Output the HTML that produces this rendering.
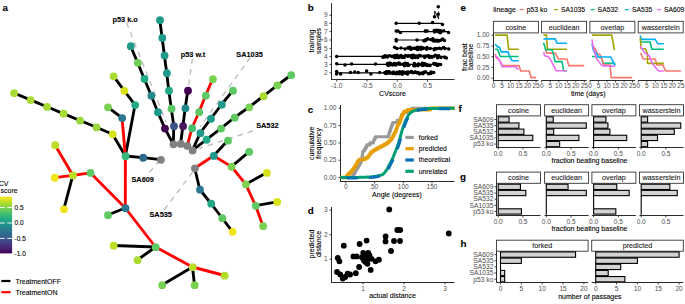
<!DOCTYPE html>
<html><head><meta charset="utf-8"><style>
html,body{margin:0;padding:0;background:#fff;width:685px;height:304px;overflow:hidden}
svg{display:block;font-family:"Liberation Sans", sans-serif}
text.s{stroke:currentColor;stroke-width:0.1px}
</style></head><body>
<svg width="685" height="304" viewBox="0 0 685 304">
<text class="s" x="2.60" y="11.20" font-size="9.8" text-anchor="start" font-weight="bold" fill="#000" color="#000" >a</text>
<text class="s" x="307.80" y="10.90" font-size="9.8" text-anchor="start" font-weight="bold" fill="#000" color="#000" >b</text>
<text class="s" x="307.80" y="112.60" font-size="9.8" text-anchor="start" font-weight="bold" fill="#000" color="#000" >c</text>
<text class="s" x="307.80" y="213.60" font-size="9.8" text-anchor="start" font-weight="bold" fill="#000" color="#000" >d</text>
<text class="s" x="460.60" y="11.20" font-size="9.8" text-anchor="start" font-weight="bold" fill="#000" color="#000" >e</text>
<text class="s" x="458.60" y="111.80" font-size="9.8" text-anchor="start" font-weight="bold" fill="#000" color="#000" >f</text>
<text class="s" x="460.00" y="180.40" font-size="9.8" text-anchor="start" font-weight="bold" fill="#000" color="#000" >g</text>
<text class="s" x="460.40" y="247.30" font-size="9.8" text-anchor="start" font-weight="bold" fill="#000" color="#000" >h</text>
<line x1="126.50" y1="22.50" x2="166.00" y2="122.00" stroke="#BDBDBD" stroke-width="1.35" stroke-dasharray="5.5 5"/>
<line x1="192.50" y1="58.70" x2="188.30" y2="87.00" stroke="#BDBDBD" stroke-width="1.35" stroke-dasharray="5.5 5"/>
<line x1="250.30" y1="57.30" x2="200.00" y2="127.00" stroke="#BDBDBD" stroke-width="1.35" stroke-dasharray="5.5 5"/>
<line x1="252.80" y1="131.00" x2="199.00" y2="148.50" stroke="#BDBDBD" stroke-width="1.35" stroke-dasharray="5.5 5"/>
<line x1="149.30" y1="172.40" x2="159.00" y2="161.50" stroke="#BDBDBD" stroke-width="1.35" stroke-dasharray="5.5 5"/>
<line x1="164.20" y1="209.90" x2="193.80" y2="170.50" stroke="#BDBDBD" stroke-width="1.35" stroke-dasharray="5.5 5"/>
<line x1="13.90" y1="93.00" x2="30.40" y2="99.90" stroke="#000" stroke-width="2.85" stroke-linecap="butt"/>
<line x1="30.40" y1="99.90" x2="46.90" y2="106.80" stroke="#000" stroke-width="2.85" stroke-linecap="butt"/>
<line x1="46.90" y1="106.80" x2="63.40" y2="113.60" stroke="#000" stroke-width="2.85" stroke-linecap="butt"/>
<line x1="63.40" y1="113.60" x2="79.90" y2="120.50" stroke="#000" stroke-width="2.85" stroke-linecap="butt"/>
<line x1="79.90" y1="120.50" x2="96.40" y2="127.30" stroke="#000" stroke-width="2.85" stroke-linecap="butt"/>
<line x1="96.40" y1="127.30" x2="112.50" y2="134.20" stroke="#000" stroke-width="2.85" stroke-linecap="butt"/>
<line x1="112.50" y1="134.20" x2="125.40" y2="156.00" stroke="#000" stroke-width="2.85" stroke-linecap="butt"/>
<line x1="113.40" y1="76.20" x2="124.20" y2="90.70" stroke="#000" stroke-width="2.85" stroke-linecap="butt"/>
<line x1="124.20" y1="90.70" x2="135.00" y2="104.90" stroke="#000" stroke-width="2.85" stroke-linecap="butt"/>
<line x1="135.00" y1="104.90" x2="125.40" y2="156.00" stroke="#000" stroke-width="2.85" stroke-linecap="butt"/>
<line x1="107.80" y1="107.20" x2="122.00" y2="117.90" stroke="#000" stroke-width="2.85" stroke-linecap="butt"/>
<line x1="122.00" y1="117.90" x2="125.40" y2="156.00" stroke="#FF0000" stroke-width="2.85" stroke-linecap="butt"/>
<line x1="125.40" y1="156.00" x2="143.00" y2="157.60" stroke="#000" stroke-width="2.85" stroke-linecap="butt"/>
<line x1="143.00" y1="157.60" x2="160.70" y2="159.70" stroke="#000" stroke-width="2.85" stroke-linecap="butt"/>
<line x1="125.40" y1="156.00" x2="125.30" y2="208.00" stroke="#FF0000" stroke-width="2.85" stroke-linecap="butt"/>
<line x1="125.30" y1="208.00" x2="107.80" y2="215.00" stroke="#000" stroke-width="2.85" stroke-linecap="butt"/>
<line x1="90.30" y1="172.80" x2="125.30" y2="208.00" stroke="#FF0000" stroke-width="2.85" stroke-linecap="butt"/>
<line x1="72.80" y1="175.30" x2="90.30" y2="172.80" stroke="#FF0000" stroke-width="2.85" stroke-linecap="butt"/>
<line x1="55.00" y1="145.00" x2="72.80" y2="175.30" stroke="#FF0000" stroke-width="2.85" stroke-linecap="butt"/>
<line x1="54.60" y1="177.60" x2="72.80" y2="175.30" stroke="#FF0000" stroke-width="2.85" stroke-linecap="butt"/>
<line x1="72.80" y1="175.30" x2="63.80" y2="209.20" stroke="#000" stroke-width="2.85" stroke-linecap="butt"/>
<line x1="125.30" y1="208.00" x2="155.50" y2="247.00" stroke="#FF0000" stroke-width="2.85" stroke-linecap="butt"/>
<line x1="113.50" y1="245.50" x2="155.50" y2="247.00" stroke="#000" stroke-width="2.85" stroke-linecap="butt"/>
<line x1="137.40" y1="260.00" x2="155.50" y2="247.00" stroke="#000" stroke-width="2.85" stroke-linecap="butt"/>
<line x1="155.50" y1="247.00" x2="192.50" y2="267.00" stroke="#FF0000" stroke-width="2.85" stroke-linecap="butt"/>
<line x1="192.50" y1="267.00" x2="224.50" y2="275.50" stroke="#FF0000" stroke-width="2.85" stroke-linecap="butt"/>
<line x1="192.50" y1="267.00" x2="162.00" y2="285.00" stroke="#000" stroke-width="2.85" stroke-linecap="butt"/>
<line x1="192.50" y1="267.00" x2="194.50" y2="285.00" stroke="#000" stroke-width="2.85" stroke-linecap="butt"/>
<line x1="130.60" y1="46.00" x2="137.60" y2="62.70" stroke="#000" stroke-width="2.85" stroke-linecap="butt"/>
<line x1="137.60" y1="62.70" x2="144.30" y2="78.80" stroke="#000" stroke-width="2.85" stroke-linecap="butt"/>
<line x1="144.30" y1="78.80" x2="151.20" y2="95.50" stroke="#000" stroke-width="2.85" stroke-linecap="butt"/>
<line x1="151.20" y1="95.50" x2="157.80" y2="112.00" stroke="#000" stroke-width="2.85" stroke-linecap="butt"/>
<line x1="157.80" y1="112.00" x2="164.80" y2="128.40" stroke="#000" stroke-width="2.85" stroke-linecap="butt"/>
<line x1="164.80" y1="128.40" x2="173.30" y2="144.20" stroke="#000" stroke-width="2.85" stroke-linecap="butt"/>
<line x1="159.80" y1="20.00" x2="162.10" y2="37.80" stroke="#000" stroke-width="2.85" stroke-linecap="butt"/>
<line x1="162.10" y1="37.80" x2="164.40" y2="55.40" stroke="#000" stroke-width="2.85" stroke-linecap="butt"/>
<line x1="164.40" y1="55.40" x2="166.70" y2="73.00" stroke="#000" stroke-width="2.85" stroke-linecap="butt"/>
<line x1="166.70" y1="73.00" x2="168.80" y2="90.60" stroke="#000" stroke-width="2.85" stroke-linecap="butt"/>
<line x1="168.80" y1="90.60" x2="171.30" y2="108.60" stroke="#000" stroke-width="2.85" stroke-linecap="butt"/>
<line x1="171.30" y1="108.60" x2="173.80" y2="126.00" stroke="#000" stroke-width="2.85" stroke-linecap="butt"/>
<line x1="173.80" y1="126.00" x2="173.30" y2="144.20" stroke="#000" stroke-width="2.85" stroke-linecap="butt"/>
<line x1="187.80" y1="90.50" x2="185.20" y2="108.20" stroke="#000" stroke-width="2.85" stroke-linecap="butt"/>
<line x1="185.20" y1="108.20" x2="182.90" y2="126.00" stroke="#000" stroke-width="2.85" stroke-linecap="butt"/>
<line x1="182.90" y1="126.00" x2="180.60" y2="143.80" stroke="#000" stroke-width="2.85" stroke-linecap="butt"/>
<line x1="212.70" y1="79.00" x2="205.60" y2="95.50" stroke="#FF0000" stroke-width="2.85" stroke-linecap="butt"/>
<line x1="205.60" y1="95.50" x2="199.00" y2="112.00" stroke="#FF0000" stroke-width="2.85" stroke-linecap="butt"/>
<line x1="199.00" y1="112.00" x2="192.00" y2="128.00" stroke="#FF0000" stroke-width="2.85" stroke-linecap="butt"/>
<line x1="192.00" y1="128.00" x2="187.20" y2="145.80" stroke="#FF0000" stroke-width="2.85" stroke-linecap="butt"/>
<line x1="232.80" y1="90.60" x2="221.60" y2="104.50" stroke="#000" stroke-width="2.85" stroke-linecap="butt"/>
<line x1="221.60" y1="104.50" x2="210.80" y2="118.60" stroke="#000" stroke-width="2.85" stroke-linecap="butt"/>
<line x1="210.80" y1="118.60" x2="200.20" y2="133.00" stroke="#000" stroke-width="2.85" stroke-linecap="butt"/>
<line x1="200.20" y1="133.00" x2="192.40" y2="150.30" stroke="#000" stroke-width="2.85" stroke-linecap="butt"/>
<line x1="291.00" y1="75.00" x2="277.20" y2="85.30" stroke="#000" stroke-width="2.85" stroke-linecap="butt"/>
<line x1="277.20" y1="85.30" x2="263.40" y2="96.10" stroke="#000" stroke-width="2.85" stroke-linecap="butt"/>
<line x1="263.40" y1="96.10" x2="249.10" y2="107.20" stroke="#000" stroke-width="2.85" stroke-linecap="butt"/>
<line x1="249.10" y1="107.20" x2="234.50" y2="117.50" stroke="#000" stroke-width="2.85" stroke-linecap="butt"/>
<line x1="234.50" y1="117.50" x2="220.90" y2="128.40" stroke="#000" stroke-width="2.85" stroke-linecap="butt"/>
<line x1="220.90" y1="128.40" x2="206.40" y2="139.60" stroke="#000" stroke-width="2.85" stroke-linecap="butt"/>
<line x1="206.40" y1="139.60" x2="192.40" y2="150.30" stroke="#000" stroke-width="2.85" stroke-linecap="butt"/>
<line x1="194.70" y1="168.20" x2="213.60" y2="155.80" stroke="#FF0000" stroke-width="2.85" stroke-linecap="butt"/>
<line x1="213.60" y1="155.80" x2="227.80" y2="140.50" stroke="#000" stroke-width="2.85" stroke-linecap="butt"/>
<line x1="213.60" y1="155.80" x2="231.40" y2="166.60" stroke="#FF0000" stroke-width="2.85" stroke-linecap="butt"/>
<line x1="231.40" y1="166.60" x2="249.00" y2="151.80" stroke="#000" stroke-width="2.85" stroke-linecap="butt"/>
<line x1="231.40" y1="166.60" x2="245.70" y2="184.20" stroke="#FF0000" stroke-width="2.85" stroke-linecap="butt"/>
<line x1="245.70" y1="184.20" x2="266.70" y2="172.80" stroke="#000" stroke-width="2.85" stroke-linecap="butt"/>
<line x1="245.70" y1="184.20" x2="255.60" y2="205.70" stroke="#FF0000" stroke-width="2.85" stroke-linecap="butt"/>
<line x1="255.60" y1="205.70" x2="277.00" y2="201.80" stroke="#000" stroke-width="2.85" stroke-linecap="butt"/>
<line x1="255.60" y1="205.70" x2="263.00" y2="226.00" stroke="#FF0000" stroke-width="2.85" stroke-linecap="butt"/>
<line x1="194.70" y1="168.20" x2="199.80" y2="189.50" stroke="#000" stroke-width="2.85" stroke-linecap="butt"/>
<line x1="199.80" y1="189.50" x2="211.00" y2="203.50" stroke="#000" stroke-width="2.85" stroke-linecap="butt"/>
<line x1="211.00" y1="203.50" x2="222.10" y2="218.00" stroke="#000" stroke-width="2.85" stroke-linecap="butt"/>
<line x1="222.10" y1="218.00" x2="232.40" y2="231.70" stroke="#000" stroke-width="2.85" stroke-linecap="butt"/>
<circle cx="14.10" cy="93.15" r="3.9" fill="#A8DB34"/>
<circle cx="30.60" cy="100.05" r="3.9" fill="#A8DB34"/>
<circle cx="47.10" cy="106.95" r="3.9" fill="#A8DB34"/>
<circle cx="63.60" cy="113.75" r="3.9" fill="#A8DB34"/>
<circle cx="80.10" cy="120.65" r="3.9" fill="#98D83E"/>
<circle cx="96.60" cy="127.45" r="3.9" fill="#98D83E"/>
<circle cx="112.70" cy="134.35" r="3.9" fill="#D8E219"/>
<circle cx="125.60" cy="156.15" r="3.9" fill="#35B779"/>
<circle cx="113.60" cy="76.35" r="3.9" fill="#A8DB34"/>
<circle cx="124.40" cy="90.85" r="3.9" fill="#D8E219"/>
<circle cx="135.20" cy="105.05" r="3.9" fill="#22A884"/>
<circle cx="108.00" cy="107.35" r="3.9" fill="#7AD151"/>
<circle cx="122.20" cy="118.05" r="3.9" fill="#2A788E"/>
<circle cx="143.20" cy="157.75" r="3.9" fill="#31688E"/>
<circle cx="160.90" cy="159.85" r="3.9" fill="#808080"/>
<circle cx="125.50" cy="208.15" r="3.9" fill="#2A788E"/>
<circle cx="108.00" cy="215.15" r="3.9" fill="#5EC962"/>
<circle cx="90.50" cy="172.95" r="3.9" fill="#5EC962"/>
<circle cx="73.00" cy="175.45" r="3.9" fill="#BBDF27"/>
<circle cx="55.20" cy="145.15" r="3.9" fill="#BBDF27"/>
<circle cx="54.80" cy="177.75" r="3.9" fill="#F0E51C"/>
<circle cx="64.00" cy="209.35" r="3.9" fill="#F0E51C"/>
<circle cx="155.70" cy="247.15" r="3.9" fill="#5EC962"/>
<circle cx="113.70" cy="245.65" r="3.9" fill="#BBDF27"/>
<circle cx="137.60" cy="260.15" r="3.9" fill="#A8DB34"/>
<circle cx="192.70" cy="267.15" r="3.9" fill="#BBDF27"/>
<circle cx="224.70" cy="275.65" r="3.9" fill="#B2DD2D"/>
<circle cx="162.20" cy="285.15" r="3.9" fill="#7AD151"/>
<circle cx="194.70" cy="285.15" r="3.9" fill="#7AD151"/>
<circle cx="173.50" cy="144.35" r="3.9" fill="#808080"/>
<circle cx="180.80" cy="143.95" r="3.9" fill="#808080"/>
<circle cx="187.40" cy="145.95" r="3.9" fill="#808080"/>
<circle cx="192.60" cy="150.45" r="3.9" fill="#808080"/>
<circle cx="130.80" cy="46.15" r="3.9" fill="#1F9A8A"/>
<circle cx="137.80" cy="62.85" r="3.9" fill="#6ECE58"/>
<circle cx="144.50" cy="78.95" r="3.9" fill="#22A884"/>
<circle cx="151.40" cy="95.65" r="3.9" fill="#25898D"/>
<circle cx="158.00" cy="112.15" r="3.9" fill="#1F9A8A"/>
<circle cx="165.00" cy="128.55" r="3.9" fill="#440154"/>
<circle cx="160.00" cy="20.15" r="3.9" fill="#1F9A8A"/>
<circle cx="162.30" cy="37.95" r="3.9" fill="#1F9A8A"/>
<circle cx="164.60" cy="55.55" r="3.9" fill="#1F9A8A"/>
<circle cx="166.90" cy="73.15" r="3.9" fill="#1F9A8A"/>
<circle cx="169.00" cy="90.75" r="3.9" fill="#22A884"/>
<circle cx="171.50" cy="108.75" r="3.9" fill="#5EC962"/>
<circle cx="174.00" cy="126.15" r="3.9" fill="#3B528B"/>
<circle cx="188.00" cy="90.65" r="3.9" fill="#440154"/>
<circle cx="185.40" cy="108.35" r="3.9" fill="#23868D"/>
<circle cx="183.10" cy="126.15" r="3.9" fill="#46185F"/>
<circle cx="212.90" cy="79.15" r="3.9" fill="#7AD151"/>
<circle cx="205.80" cy="95.65" r="3.9" fill="#5EC962"/>
<circle cx="199.20" cy="112.15" r="3.9" fill="#5EC962"/>
<circle cx="192.20" cy="128.15" r="3.9" fill="#43BF71"/>
<circle cx="233.00" cy="90.75" r="3.9" fill="#5EC962"/>
<circle cx="221.80" cy="104.65" r="3.9" fill="#1F9A8A"/>
<circle cx="211.00" cy="118.75" r="3.9" fill="#1F9A8A"/>
<circle cx="200.40" cy="133.15" r="3.9" fill="#1F9A8A"/>
<circle cx="291.20" cy="75.15" r="3.9" fill="#5EC962"/>
<circle cx="277.40" cy="85.45" r="3.9" fill="#7AD151"/>
<circle cx="263.60" cy="96.25" r="3.9" fill="#A8DB34"/>
<circle cx="249.30" cy="107.35" r="3.9" fill="#7AD151"/>
<circle cx="234.70" cy="117.65" r="3.9" fill="#5EC962"/>
<circle cx="221.10" cy="128.55" r="3.9" fill="#5EC962"/>
<circle cx="206.60" cy="139.75" r="3.9" fill="#22A884"/>
<circle cx="194.90" cy="168.35" r="3.9" fill="#808080"/>
<circle cx="213.80" cy="155.95" r="3.9" fill="#1F9A8A"/>
<circle cx="228.00" cy="140.65" r="3.9" fill="#5EC962"/>
<circle cx="231.60" cy="166.75" r="3.9" fill="#7AD151"/>
<circle cx="249.20" cy="151.95" r="3.9" fill="#5EC962"/>
<circle cx="245.90" cy="184.35" r="3.9" fill="#7AD151"/>
<circle cx="266.90" cy="172.95" r="3.9" fill="#D8E219"/>
<circle cx="255.80" cy="205.85" r="3.9" fill="#5EC962"/>
<circle cx="277.20" cy="201.95" r="3.9" fill="#D8E219"/>
<circle cx="263.20" cy="226.15" r="3.9" fill="#7AD151"/>
<circle cx="200.00" cy="189.65" r="3.9" fill="#2A788E"/>
<circle cx="211.20" cy="203.65" r="3.9" fill="#22A884"/>
<circle cx="222.30" cy="218.15" r="3.9" fill="#5EC962"/>
<circle cx="232.60" cy="231.85" r="3.9" fill="#F0E51C"/>
<text class="s" x="125.20" y="21.70" font-size="7.35" text-anchor="middle" font-weight="bold" fill="#000" color="#000" >p53 k.o</text>
<text class="s" x="193.00" y="57.00" font-size="7.35" text-anchor="middle" font-weight="bold" fill="#000" color="#000" >p53 w.t</text>
<text class="s" x="249.55" y="57.00" font-size="7.35" text-anchor="middle" font-weight="bold" fill="#000" color="#000" >SA1035</text>
<text class="s" x="267.40" y="128.00" font-size="7.35" text-anchor="middle" font-weight="bold" fill="#000" color="#000" >SA532</text>
<text class="s" x="142.70" y="181.70" font-size="7.35" text-anchor="middle" font-weight="bold" fill="#000" color="#000" >SA609</text>
<text class="s" x="160.70" y="217.20" font-size="7.35" text-anchor="middle" font-weight="bold" fill="#000" color="#000" >SA535</text>
<defs><linearGradient id="vir" x1="0" y1="1" x2="0" y2="0"><stop offset="0" stop-color="#440154"/><stop offset="0.1" stop-color="#482576"/><stop offset="0.2" stop-color="#414487"/><stop offset="0.3" stop-color="#35608D"/><stop offset="0.4" stop-color="#2A788E"/><stop offset="0.5" stop-color="#21908C"/><stop offset="0.6" stop-color="#22A884"/><stop offset="0.7" stop-color="#43BF71"/><stop offset="0.8" stop-color="#7AD151"/><stop offset="0.9" stop-color="#BBDF27"/><stop offset="1" stop-color="#FDE725"/></linearGradient></defs>
<rect x="0" y="196.6" width="12.1" height="56.8" fill="url(#vir)"/>
<line x1="0.00" y1="207.50" x2="4.80" y2="207.50" stroke="#FFFFFF" stroke-width="0.9" />
<line x1="7.30" y1="207.50" x2="12.10" y2="207.50" stroke="#FFFFFF" stroke-width="0.9" />
<text class="s" x="14.60" y="209.80" font-size="6.5" text-anchor="start" font-weight="normal" fill="#000" color="#000" >0.5</text>
<line x1="0.00" y1="223.00" x2="4.80" y2="223.00" stroke="#FFFFFF" stroke-width="0.9" />
<line x1="7.30" y1="223.00" x2="12.10" y2="223.00" stroke="#FFFFFF" stroke-width="0.9" />
<text class="s" x="14.60" y="225.30" font-size="6.5" text-anchor="start" font-weight="normal" fill="#000" color="#000" >0.0</text>
<line x1="0.00" y1="238.40" x2="4.80" y2="238.40" stroke="#FFFFFF" stroke-width="0.9" />
<line x1="7.30" y1="238.40" x2="12.10" y2="238.40" stroke="#FFFFFF" stroke-width="0.9" />
<text class="s" x="14.60" y="240.70" font-size="6.5" text-anchor="start" font-weight="normal" fill="#000" color="#000" >-0.5</text>
<text class="s" x="14.60" y="255.90" font-size="6.5" text-anchor="start" font-weight="normal" fill="#000" color="#000" >-1.0</text>
<text class="s" x="-1.20" y="185.60" font-size="7.0" text-anchor="start" font-weight="normal" fill="#000" color="#000" >CV</text>
<text class="s" x="0.60" y="193.00" font-size="7.0" text-anchor="start" font-weight="normal" fill="#000" color="#000" >score</text>
<line x1="1.30" y1="281.00" x2="10.50" y2="281.00" stroke="#000" stroke-width="2.2" />
<line x1="1.30" y1="292.20" x2="10.50" y2="292.20" stroke="#FF0000" stroke-width="2.2" />
<text class="s" x="15.40" y="283.50" font-size="7.0" text-anchor="start" font-weight="normal" fill="#000" color="#000" >TreatmentOFF</text>
<text class="s" x="15.40" y="294.70" font-size="7.0" text-anchor="start" font-weight="normal" fill="#000" color="#000" >TreatmentON</text>
<line x1="331.50" y1="3.20" x2="331.50" y2="80.00" stroke="#2B2B2B" stroke-width="1.0" />
<line x1="331.00" y1="79.50" x2="454.50" y2="79.50" stroke="#2B2B2B" stroke-width="1.0" />
<line x1="329.50" y1="72.80" x2="331.50" y2="72.80" stroke="#2B2B2B" stroke-width="0.9" />
<text x="327.60" y="75.00" font-size="6.5" text-anchor="end" font-weight="normal" fill="#4D4D4D" color="#4D4D4D" >2</text>
<line x1="329.50" y1="64.40" x2="331.50" y2="64.40" stroke="#2B2B2B" stroke-width="0.9" />
<text x="327.60" y="66.60" font-size="6.5" text-anchor="end" font-weight="normal" fill="#4D4D4D" color="#4D4D4D" >3</text>
<line x1="329.50" y1="56.40" x2="331.50" y2="56.40" stroke="#2B2B2B" stroke-width="0.9" />
<text x="327.60" y="58.60" font-size="6.5" text-anchor="end" font-weight="normal" fill="#4D4D4D" color="#4D4D4D" >4</text>
<line x1="329.50" y1="48.40" x2="331.50" y2="48.40" stroke="#2B2B2B" stroke-width="0.9" />
<text x="327.60" y="50.60" font-size="6.5" text-anchor="end" font-weight="normal" fill="#4D4D4D" color="#4D4D4D" >5</text>
<line x1="329.50" y1="40.00" x2="331.50" y2="40.00" stroke="#2B2B2B" stroke-width="0.9" />
<text x="327.60" y="42.20" font-size="6.5" text-anchor="end" font-weight="normal" fill="#4D4D4D" color="#4D4D4D" >6</text>
<line x1="329.50" y1="31.60" x2="331.50" y2="31.60" stroke="#2B2B2B" stroke-width="0.9" />
<text x="327.60" y="33.80" font-size="6.5" text-anchor="end" font-weight="normal" fill="#4D4D4D" color="#4D4D4D" >7</text>
<line x1="329.50" y1="23.30" x2="331.50" y2="23.30" stroke="#2B2B2B" stroke-width="0.9" />
<text x="327.60" y="25.50" font-size="6.5" text-anchor="end" font-weight="normal" fill="#4D4D4D" color="#4D4D4D" >8</text>
<line x1="329.50" y1="15.20" x2="331.50" y2="15.20" stroke="#2B2B2B" stroke-width="0.9" />
<text x="327.60" y="17.40" font-size="6.5" text-anchor="end" font-weight="normal" fill="#4D4D4D" color="#4D4D4D" >9</text>
<line x1="336.75" y1="79.50" x2="336.75" y2="81.60" stroke="#2B2B2B" stroke-width="0.9" />
<text x="336.75" y="88.00" font-size="6.5" text-anchor="middle" font-weight="normal" fill="#4D4D4D" color="#4D4D4D" >-1.0</text>
<line x1="367.00" y1="79.50" x2="367.00" y2="81.60" stroke="#2B2B2B" stroke-width="0.9" />
<text x="367.00" y="88.00" font-size="6.5" text-anchor="middle" font-weight="normal" fill="#4D4D4D" color="#4D4D4D" >-0.5</text>
<line x1="397.25" y1="79.50" x2="397.25" y2="81.60" stroke="#2B2B2B" stroke-width="0.9" />
<text x="397.25" y="88.00" font-size="6.5" text-anchor="middle" font-weight="normal" fill="#4D4D4D" color="#4D4D4D" >0.0</text>
<line x1="427.50" y1="79.50" x2="427.50" y2="81.60" stroke="#2B2B2B" stroke-width="0.9" />
<text x="427.50" y="88.00" font-size="6.5" text-anchor="middle" font-weight="normal" fill="#4D4D4D" color="#4D4D4D" >0.5</text>
<text class="s" x="392.50" y="95.60" font-size="7.0" text-anchor="middle" font-weight="normal" fill="#000" color="#000" >CVscore</text>
<text class="s" x="314.00" y="41.00" font-size="7.0" text-anchor="middle" font-weight="normal" fill="#000" color="#000" transform="rotate(-90 314.00 41.00)" >training</text>
<text class="s" x="320.90" y="41.00" font-size="7.0" text-anchor="middle" font-weight="normal" fill="#000" color="#000" transform="rotate(-90 320.90 41.00)" >samples</text>
<line x1="336.60" y1="72.80" x2="433.70" y2="72.80" stroke="#000" stroke-width="1.2" />
<circle cx="336.60" cy="71.60" r="1.75" fill="#000"/>
<circle cx="336.60" cy="73.90" r="1.75" fill="#000"/>
<circle cx="340.60" cy="74.00" r="1.75" fill="#000"/>
<circle cx="350.50" cy="72.60" r="1.75" fill="#000"/>
<circle cx="354.70" cy="72.00" r="1.75" fill="#000"/>
<circle cx="358.20" cy="72.60" r="1.75" fill="#000"/>
<circle cx="366.60" cy="71.00" r="1.75" fill="#000"/>
<circle cx="370.90" cy="74.00" r="1.75" fill="#000"/>
<circle cx="379.70" cy="72.40" r="1.75" fill="#000"/>
<circle cx="384.70" cy="72.80" r="1.75" fill="#000"/>
<circle cx="433.70" cy="72.60" r="1.75" fill="#000"/>
<circle cx="393.54" cy="71.89" r="1.75" fill="#000"/>
<circle cx="402.47" cy="71.69" r="1.75" fill="#000"/>
<circle cx="399.33" cy="72.45" r="1.75" fill="#000"/>
<circle cx="386.28" cy="72.82" r="1.75" fill="#000"/>
<circle cx="385.72" cy="72.63" r="1.75" fill="#000"/>
<circle cx="386.61" cy="71.74" r="1.75" fill="#000"/>
<circle cx="396.29" cy="73.65" r="1.75" fill="#000"/>
<circle cx="388.08" cy="72.08" r="1.75" fill="#000"/>
<circle cx="401.83" cy="73.96" r="1.75" fill="#000"/>
<circle cx="400.45" cy="72.53" r="1.75" fill="#000"/>
<circle cx="411.35" cy="71.62" r="1.75" fill="#000"/>
<circle cx="408.14" cy="72.25" r="1.75" fill="#000"/>
<circle cx="388.64" cy="71.81" r="1.75" fill="#000"/>
<circle cx="393.12" cy="73.62" r="1.75" fill="#000"/>
<circle cx="389.63" cy="73.01" r="1.75" fill="#000"/>
<circle cx="402.14" cy="72.47" r="1.75" fill="#000"/>
<circle cx="399.65" cy="71.66" r="1.75" fill="#000"/>
<circle cx="386.33" cy="72.04" r="1.75" fill="#000"/>
<circle cx="403.27" cy="72.61" r="1.75" fill="#000"/>
<circle cx="393.28" cy="73.02" r="1.75" fill="#000"/>
<circle cx="397.07" cy="72.28" r="1.75" fill="#000"/>
<circle cx="406.39" cy="73.32" r="1.75" fill="#000"/>
<circle cx="391.36" cy="72.99" r="1.75" fill="#000"/>
<circle cx="399.04" cy="73.78" r="1.75" fill="#000"/>
<circle cx="404.61" cy="72.25" r="1.75" fill="#000"/>
<circle cx="411.46" cy="71.81" r="1.75" fill="#000"/>
<circle cx="396.11" cy="73.47" r="1.75" fill="#000"/>
<circle cx="388.85" cy="72.77" r="1.75" fill="#000"/>
<circle cx="385.77" cy="73.24" r="1.75" fill="#000"/>
<circle cx="405.57" cy="72.99" r="1.75" fill="#000"/>
<circle cx="408.60" cy="72.32" r="1.75" fill="#000"/>
<circle cx="403.68" cy="73.05" r="1.75" fill="#000"/>
<circle cx="400.53" cy="72.69" r="1.75" fill="#000"/>
<circle cx="407.63" cy="73.96" r="1.75" fill="#000"/>
<circle cx="397.64" cy="73.23" r="1.75" fill="#000"/>
<circle cx="386.36" cy="73.32" r="1.75" fill="#000"/>
<circle cx="402.37" cy="74.08" r="1.75" fill="#000"/>
<circle cx="407.14" cy="72.24" r="1.75" fill="#000"/>
<circle cx="395.23" cy="73.24" r="1.75" fill="#000"/>
<circle cx="385.32" cy="72.70" r="1.75" fill="#000"/>
<circle cx="389.29" cy="71.80" r="1.75" fill="#000"/>
<circle cx="386.31" cy="73.50" r="1.75" fill="#000"/>
<circle cx="414.59" cy="72.14" r="1.75" fill="#000"/>
<circle cx="419.82" cy="73.77" r="1.75" fill="#000"/>
<circle cx="413.61" cy="72.67" r="1.75" fill="#000"/>
<circle cx="422.99" cy="73.80" r="1.75" fill="#000"/>
<circle cx="428.39" cy="73.75" r="1.75" fill="#000"/>
<circle cx="417.57" cy="72.58" r="1.75" fill="#000"/>
<circle cx="419.18" cy="73.80" r="1.75" fill="#000"/>
<circle cx="431.15" cy="71.89" r="1.75" fill="#000"/>
<circle cx="415.52" cy="72.10" r="1.75" fill="#000"/>
<circle cx="416.67" cy="72.76" r="1.75" fill="#000"/>
<circle cx="423.78" cy="72.18" r="1.75" fill="#000"/>
<circle cx="412.08" cy="72.59" r="1.75" fill="#000"/>
<circle cx="419.39" cy="72.97" r="1.75" fill="#000"/>
<circle cx="431.06" cy="73.30" r="1.75" fill="#000"/>
<circle cx="422.31" cy="73.11" r="1.75" fill="#000"/>
<circle cx="425.52" cy="71.64" r="1.75" fill="#000"/>
<circle cx="429.99" cy="73.53" r="1.75" fill="#000"/>
<circle cx="429.49" cy="73.57" r="1.75" fill="#000"/>
<line x1="336.70" y1="64.40" x2="440.60" y2="64.40" stroke="#000" stroke-width="1.2" />
<circle cx="336.70" cy="63.80" r="1.75" fill="#000"/>
<circle cx="345.00" cy="64.90" r="1.75" fill="#000"/>
<circle cx="351.60" cy="64.00" r="1.75" fill="#000"/>
<circle cx="375.50" cy="63.90" r="1.75" fill="#000"/>
<circle cx="387.50" cy="64.50" r="1.75" fill="#000"/>
<circle cx="440.60" cy="64.60" r="1.75" fill="#000"/>
<circle cx="400.25" cy="64.14" r="1.75" fill="#000"/>
<circle cx="390.86" cy="64.75" r="1.75" fill="#000"/>
<circle cx="389.52" cy="63.28" r="1.75" fill="#000"/>
<circle cx="394.28" cy="63.52" r="1.75" fill="#000"/>
<circle cx="398.55" cy="63.24" r="1.75" fill="#000"/>
<circle cx="387.51" cy="63.49" r="1.75" fill="#000"/>
<circle cx="390.80" cy="64.05" r="1.75" fill="#000"/>
<circle cx="388.33" cy="65.37" r="1.75" fill="#000"/>
<circle cx="407.46" cy="63.49" r="1.75" fill="#000"/>
<circle cx="395.70" cy="64.00" r="1.75" fill="#000"/>
<circle cx="399.34" cy="63.42" r="1.75" fill="#000"/>
<circle cx="415.09" cy="65.68" r="1.75" fill="#000"/>
<circle cx="402.64" cy="64.36" r="1.75" fill="#000"/>
<circle cx="390.29" cy="63.37" r="1.75" fill="#000"/>
<circle cx="398.64" cy="63.79" r="1.75" fill="#000"/>
<circle cx="414.44" cy="63.52" r="1.75" fill="#000"/>
<circle cx="388.25" cy="65.57" r="1.75" fill="#000"/>
<circle cx="404.67" cy="63.48" r="1.75" fill="#000"/>
<circle cx="405.15" cy="63.17" r="1.75" fill="#000"/>
<circle cx="404.66" cy="65.64" r="1.75" fill="#000"/>
<circle cx="415.56" cy="64.91" r="1.75" fill="#000"/>
<circle cx="395.99" cy="64.05" r="1.75" fill="#000"/>
<circle cx="392.93" cy="65.11" r="1.75" fill="#000"/>
<circle cx="404.81" cy="65.13" r="1.75" fill="#000"/>
<circle cx="398.21" cy="63.68" r="1.75" fill="#000"/>
<circle cx="413.87" cy="65.66" r="1.75" fill="#000"/>
<circle cx="415.21" cy="65.20" r="1.75" fill="#000"/>
<circle cx="414.10" cy="65.02" r="1.75" fill="#000"/>
<circle cx="394.87" cy="64.45" r="1.75" fill="#000"/>
<circle cx="399.06" cy="63.18" r="1.75" fill="#000"/>
<circle cx="388.41" cy="63.83" r="1.75" fill="#000"/>
<circle cx="395.92" cy="64.90" r="1.75" fill="#000"/>
<circle cx="418.59" cy="64.26" r="1.75" fill="#000"/>
<circle cx="417.95" cy="65.67" r="1.75" fill="#000"/>
<circle cx="418.54" cy="64.05" r="1.75" fill="#000"/>
<circle cx="394.67" cy="63.69" r="1.75" fill="#000"/>
<circle cx="393.89" cy="63.63" r="1.75" fill="#000"/>
<circle cx="407.78" cy="65.44" r="1.75" fill="#000"/>
<circle cx="414.81" cy="64.35" r="1.75" fill="#000"/>
<circle cx="408.72" cy="65.18" r="1.75" fill="#000"/>
<circle cx="421.61" cy="64.82" r="1.75" fill="#000"/>
<circle cx="437.29" cy="65.13" r="1.75" fill="#000"/>
<circle cx="434.25" cy="64.34" r="1.75" fill="#000"/>
<circle cx="423.39" cy="65.15" r="1.75" fill="#000"/>
<circle cx="426.32" cy="65.18" r="1.75" fill="#000"/>
<circle cx="438.46" cy="64.13" r="1.75" fill="#000"/>
<circle cx="427.63" cy="65.56" r="1.75" fill="#000"/>
<circle cx="433.77" cy="63.54" r="1.75" fill="#000"/>
<circle cx="422.41" cy="63.49" r="1.75" fill="#000"/>
<circle cx="437.19" cy="65.20" r="1.75" fill="#000"/>
<circle cx="422.78" cy="65.25" r="1.75" fill="#000"/>
<circle cx="438.63" cy="64.81" r="1.75" fill="#000"/>
<circle cx="426.66" cy="64.53" r="1.75" fill="#000"/>
<circle cx="422.49" cy="63.14" r="1.75" fill="#000"/>
<circle cx="438.45" cy="64.79" r="1.75" fill="#000"/>
<circle cx="430.01" cy="65.53" r="1.75" fill="#000"/>
<circle cx="428.24" cy="65.37" r="1.75" fill="#000"/>
<circle cx="435.70" cy="63.65" r="1.75" fill="#000"/>
<circle cx="424.78" cy="63.86" r="1.75" fill="#000"/>
<circle cx="424.57" cy="64.62" r="1.75" fill="#000"/>
<circle cx="424.93" cy="64.19" r="1.75" fill="#000"/>
<circle cx="422.49" cy="65.47" r="1.75" fill="#000"/>
<line x1="336.70" y1="56.40" x2="446.40" y2="56.40" stroke="#000" stroke-width="1.2" />
<circle cx="336.70" cy="56.40" r="1.75" fill="#000"/>
<circle cx="383.00" cy="57.00" r="1.75" fill="#000"/>
<circle cx="446.40" cy="57.90" r="1.75" fill="#000"/>
<circle cx="392.55" cy="56.29" r="1.75" fill="#000"/>
<circle cx="398.75" cy="57.45" r="1.75" fill="#000"/>
<circle cx="394.36" cy="57.49" r="1.75" fill="#000"/>
<circle cx="396.54" cy="56.48" r="1.75" fill="#000"/>
<circle cx="397.13" cy="55.15" r="1.75" fill="#000"/>
<circle cx="394.88" cy="55.58" r="1.75" fill="#000"/>
<circle cx="383.11" cy="57.18" r="1.75" fill="#000"/>
<circle cx="387.65" cy="56.33" r="1.75" fill="#000"/>
<circle cx="402.58" cy="56.55" r="1.75" fill="#000"/>
<circle cx="391.80" cy="56.45" r="1.75" fill="#000"/>
<circle cx="398.00" cy="57.14" r="1.75" fill="#000"/>
<circle cx="385.86" cy="56.56" r="1.75" fill="#000"/>
<circle cx="389.71" cy="55.82" r="1.75" fill="#000"/>
<circle cx="403.85" cy="56.42" r="1.75" fill="#000"/>
<circle cx="398.17" cy="57.08" r="1.75" fill="#000"/>
<circle cx="407.64" cy="56.25" r="1.75" fill="#000"/>
<circle cx="399.54" cy="56.41" r="1.75" fill="#000"/>
<circle cx="396.83" cy="56.90" r="1.75" fill="#000"/>
<circle cx="395.21" cy="56.49" r="1.75" fill="#000"/>
<circle cx="395.91" cy="57.55" r="1.75" fill="#000"/>
<circle cx="401.88" cy="57.38" r="1.75" fill="#000"/>
<circle cx="408.44" cy="55.77" r="1.75" fill="#000"/>
<circle cx="398.11" cy="57.55" r="1.75" fill="#000"/>
<circle cx="405.68" cy="55.46" r="1.75" fill="#000"/>
<circle cx="386.28" cy="56.25" r="1.75" fill="#000"/>
<circle cx="384.96" cy="55.73" r="1.75" fill="#000"/>
<circle cx="384.97" cy="56.84" r="1.75" fill="#000"/>
<circle cx="404.17" cy="57.43" r="1.75" fill="#000"/>
<circle cx="387.17" cy="56.96" r="1.75" fill="#000"/>
<circle cx="400.83" cy="55.47" r="1.75" fill="#000"/>
<circle cx="440.90" cy="57.62" r="1.75" fill="#000"/>
<circle cx="417.69" cy="57.58" r="1.75" fill="#000"/>
<circle cx="423.94" cy="56.37" r="1.75" fill="#000"/>
<circle cx="444.65" cy="57.26" r="1.75" fill="#000"/>
<circle cx="415.65" cy="56.22" r="1.75" fill="#000"/>
<circle cx="428.05" cy="55.98" r="1.75" fill="#000"/>
<circle cx="416.85" cy="55.93" r="1.75" fill="#000"/>
<circle cx="435.28" cy="55.15" r="1.75" fill="#000"/>
<circle cx="429.39" cy="56.25" r="1.75" fill="#000"/>
<circle cx="410.63" cy="55.96" r="1.75" fill="#000"/>
<circle cx="431.84" cy="56.43" r="1.75" fill="#000"/>
<circle cx="412.25" cy="57.66" r="1.75" fill="#000"/>
<circle cx="437.59" cy="57.63" r="1.75" fill="#000"/>
<circle cx="413.67" cy="55.79" r="1.75" fill="#000"/>
<circle cx="411.39" cy="57.13" r="1.75" fill="#000"/>
<circle cx="419.47" cy="55.44" r="1.75" fill="#000"/>
<circle cx="424.78" cy="57.47" r="1.75" fill="#000"/>
<circle cx="438.66" cy="55.77" r="1.75" fill="#000"/>
<circle cx="415.23" cy="57.49" r="1.75" fill="#000"/>
<circle cx="429.97" cy="56.92" r="1.75" fill="#000"/>
<circle cx="413.13" cy="55.25" r="1.75" fill="#000"/>
<circle cx="434.09" cy="56.21" r="1.75" fill="#000"/>
<circle cx="412.53" cy="57.54" r="1.75" fill="#000"/>
<circle cx="432.21" cy="57.18" r="1.75" fill="#000"/>
<circle cx="412.93" cy="57.33" r="1.75" fill="#000"/>
<circle cx="412.33" cy="57.34" r="1.75" fill="#000"/>
<circle cx="425.88" cy="55.98" r="1.75" fill="#000"/>
<circle cx="429.36" cy="57.51" r="1.75" fill="#000"/>
<circle cx="419.38" cy="55.44" r="1.75" fill="#000"/>
<circle cx="428.44" cy="55.72" r="1.75" fill="#000"/>
<circle cx="413.83" cy="55.52" r="1.75" fill="#000"/>
<circle cx="411.76" cy="55.62" r="1.75" fill="#000"/>
<circle cx="420.92" cy="55.89" r="1.75" fill="#000"/>
<circle cx="436.58" cy="55.85" r="1.75" fill="#000"/>
<line x1="394.60" y1="48.40" x2="448.70" y2="48.40" stroke="#000" stroke-width="1.2" />
<circle cx="394.60" cy="47.30" r="1.75" fill="#000"/>
<circle cx="448.70" cy="49.00" r="1.75" fill="#000"/>
<circle cx="397.00" cy="48.40" r="1.75" fill="#000"/>
<circle cx="401.00" cy="48.00" r="1.75" fill="#000"/>
<circle cx="405.00" cy="49.00" r="1.75" fill="#000"/>
<circle cx="427.00" cy="47.56" r="1.75" fill="#000"/>
<circle cx="421.19" cy="47.15" r="1.75" fill="#000"/>
<circle cx="417.52" cy="47.14" r="1.75" fill="#000"/>
<circle cx="435.86" cy="48.53" r="1.75" fill="#000"/>
<circle cx="415.20" cy="48.33" r="1.75" fill="#000"/>
<circle cx="443.52" cy="47.38" r="1.75" fill="#000"/>
<circle cx="439.12" cy="48.22" r="1.75" fill="#000"/>
<circle cx="426.81" cy="49.27" r="1.75" fill="#000"/>
<circle cx="422.94" cy="48.42" r="1.75" fill="#000"/>
<circle cx="434.13" cy="49.65" r="1.75" fill="#000"/>
<circle cx="421.02" cy="49.26" r="1.75" fill="#000"/>
<circle cx="434.86" cy="48.75" r="1.75" fill="#000"/>
<circle cx="423.38" cy="48.00" r="1.75" fill="#000"/>
<circle cx="410.07" cy="47.44" r="1.75" fill="#000"/>
<circle cx="410.69" cy="49.03" r="1.75" fill="#000"/>
<circle cx="417.71" cy="47.52" r="1.75" fill="#000"/>
<circle cx="411.21" cy="49.29" r="1.75" fill="#000"/>
<circle cx="441.08" cy="48.84" r="1.75" fill="#000"/>
<circle cx="418.71" cy="47.73" r="1.75" fill="#000"/>
<circle cx="419.14" cy="48.29" r="1.75" fill="#000"/>
<circle cx="413.99" cy="48.26" r="1.75" fill="#000"/>
<circle cx="418.00" cy="49.60" r="1.75" fill="#000"/>
<circle cx="444.96" cy="48.52" r="1.75" fill="#000"/>
<circle cx="417.29" cy="49.61" r="1.75" fill="#000"/>
<circle cx="419.76" cy="48.03" r="1.75" fill="#000"/>
<circle cx="408.04" cy="48.09" r="1.75" fill="#000"/>
<circle cx="426.04" cy="48.41" r="1.75" fill="#000"/>
<circle cx="415.64" cy="48.41" r="1.75" fill="#000"/>
<circle cx="408.19" cy="47.79" r="1.75" fill="#000"/>
<circle cx="411.41" cy="48.14" r="1.75" fill="#000"/>
<circle cx="409.58" cy="47.16" r="1.75" fill="#000"/>
<circle cx="419.56" cy="47.71" r="1.75" fill="#000"/>
<circle cx="430.25" cy="48.48" r="1.75" fill="#000"/>
<circle cx="436.52" cy="48.81" r="1.75" fill="#000"/>
<line x1="396.20" y1="40.00" x2="444.50" y2="40.00" stroke="#000" stroke-width="1.2" />
<circle cx="396.20" cy="39.60" r="1.75" fill="#000"/>
<circle cx="396.20" cy="41.00" r="1.75" fill="#000"/>
<circle cx="417.00" cy="40.00" r="1.75" fill="#000"/>
<circle cx="444.50" cy="40.50" r="1.75" fill="#000"/>
<circle cx="437.32" cy="40.99" r="1.75" fill="#000"/>
<circle cx="430.79" cy="39.55" r="1.75" fill="#000"/>
<circle cx="442.69" cy="39.09" r="1.75" fill="#000"/>
<circle cx="437.48" cy="40.37" r="1.75" fill="#000"/>
<circle cx="423.88" cy="40.87" r="1.75" fill="#000"/>
<circle cx="440.84" cy="40.33" r="1.75" fill="#000"/>
<circle cx="437.68" cy="40.81" r="1.75" fill="#000"/>
<circle cx="425.79" cy="40.06" r="1.75" fill="#000"/>
<circle cx="433.09" cy="40.87" r="1.75" fill="#000"/>
<circle cx="439.09" cy="40.85" r="1.75" fill="#000"/>
<circle cx="434.68" cy="41.02" r="1.75" fill="#000"/>
<circle cx="436.66" cy="40.50" r="1.75" fill="#000"/>
<circle cx="427.60" cy="38.78" r="1.75" fill="#000"/>
<circle cx="425.66" cy="39.64" r="1.75" fill="#000"/>
<circle cx="425.10" cy="40.87" r="1.75" fill="#000"/>
<circle cx="434.17" cy="40.33" r="1.75" fill="#000"/>
<circle cx="435.52" cy="40.47" r="1.75" fill="#000"/>
<circle cx="432.79" cy="38.71" r="1.75" fill="#000"/>
<circle cx="438.95" cy="40.65" r="1.75" fill="#000"/>
<circle cx="433.06" cy="40.09" r="1.75" fill="#000"/>
<line x1="396.20" y1="31.60" x2="448.50" y2="31.60" stroke="#000" stroke-width="1.2" />
<circle cx="396.20" cy="31.00" r="1.75" fill="#000"/>
<circle cx="400.40" cy="32.40" r="1.75" fill="#000"/>
<circle cx="448.50" cy="32.60" r="1.75" fill="#000"/>
<circle cx="398.00" cy="31.00" r="1.75" fill="#000"/>
<circle cx="438.50" cy="30.47" r="1.75" fill="#000"/>
<circle cx="440.21" cy="30.96" r="1.75" fill="#000"/>
<circle cx="425.64" cy="30.99" r="1.75" fill="#000"/>
<circle cx="440.05" cy="30.83" r="1.75" fill="#000"/>
<circle cx="440.28" cy="32.84" r="1.75" fill="#000"/>
<circle cx="434.87" cy="31.29" r="1.75" fill="#000"/>
<circle cx="434.54" cy="32.08" r="1.75" fill="#000"/>
<circle cx="440.87" cy="31.90" r="1.75" fill="#000"/>
<circle cx="438.14" cy="30.50" r="1.75" fill="#000"/>
<circle cx="427.24" cy="30.96" r="1.75" fill="#000"/>
<circle cx="440.35" cy="31.09" r="1.75" fill="#000"/>
<circle cx="436.49" cy="30.33" r="1.75" fill="#000"/>
<circle cx="425.33" cy="31.00" r="1.75" fill="#000"/>
<circle cx="438.78" cy="32.10" r="1.75" fill="#000"/>
<circle cx="438.87" cy="31.06" r="1.75" fill="#000"/>
<circle cx="435.36" cy="31.51" r="1.75" fill="#000"/>
<circle cx="434.26" cy="30.61" r="1.75" fill="#000"/>
<circle cx="443.66" cy="30.82" r="1.75" fill="#000"/>
<line x1="396.20" y1="23.30" x2="442.50" y2="23.30" stroke="#000" stroke-width="1.2" />
<circle cx="396.20" cy="23.20" r="1.75" fill="#000"/>
<circle cx="419.20" cy="23.20" r="1.75" fill="#000"/>
<circle cx="432.60" cy="22.40" r="1.75" fill="#000"/>
<circle cx="442.50" cy="24.40" r="1.75" fill="#000"/>
<polyline points="434.70,18.40 434.70,11.00 438.60,18.90 438.60,11.50" fill="none" stroke="#000" stroke-width="0.9" stroke-linejoin="round" />
<circle cx="438.20" cy="14.30" r="1.75" fill="#000"/>
<circle cx="434.50" cy="16.80" r="1.75" fill="#000"/>
<circle cx="438.30" cy="6.80" r="1.8" fill="#000"/>
<line x1="340.50" y1="105.00" x2="340.50" y2="182.00" stroke="#2B2B2B" stroke-width="1.0" />
<line x1="340.00" y1="181.50" x2="454.50" y2="181.50" stroke="#2B2B2B" stroke-width="1.0" />
<line x1="338.50" y1="177.50" x2="340.50" y2="177.50" stroke="#2B2B2B" stroke-width="0.9" />
<text x="336.40" y="179.70" font-size="6.5" text-anchor="end" font-weight="normal" fill="#4D4D4D" color="#4D4D4D" >0.00</text>
<line x1="338.50" y1="160.19" x2="340.50" y2="160.19" stroke="#2B2B2B" stroke-width="0.9" />
<text x="336.40" y="162.39" font-size="6.5" text-anchor="end" font-weight="normal" fill="#4D4D4D" color="#4D4D4D" >0.25</text>
<line x1="338.50" y1="142.88" x2="340.50" y2="142.88" stroke="#2B2B2B" stroke-width="0.9" />
<text x="336.40" y="145.07" font-size="6.5" text-anchor="end" font-weight="normal" fill="#4D4D4D" color="#4D4D4D" >0.50</text>
<line x1="338.50" y1="125.56" x2="340.50" y2="125.56" stroke="#2B2B2B" stroke-width="0.9" />
<text x="336.40" y="127.76" font-size="6.5" text-anchor="end" font-weight="normal" fill="#4D4D4D" color="#4D4D4D" >0.75</text>
<line x1="338.50" y1="108.25" x2="340.50" y2="108.25" stroke="#2B2B2B" stroke-width="0.9" />
<text x="336.40" y="110.45" font-size="6.5" text-anchor="end" font-weight="normal" fill="#4D4D4D" color="#4D4D4D" >1.00</text>
<line x1="345.75" y1="181.50" x2="345.75" y2="183.40" stroke="#2B2B2B" stroke-width="0.9" />
<text x="345.75" y="189.40" font-size="6.5" text-anchor="middle" font-weight="normal" fill="#4D4D4D" color="#4D4D4D" >0</text>
<line x1="374.50" y1="181.50" x2="374.50" y2="183.40" stroke="#2B2B2B" stroke-width="0.9" />
<text x="374.50" y="189.40" font-size="6.5" text-anchor="middle" font-weight="normal" fill="#4D4D4D" color="#4D4D4D" >50</text>
<line x1="403.25" y1="181.50" x2="403.25" y2="183.40" stroke="#2B2B2B" stroke-width="0.9" />
<text x="403.25" y="189.40" font-size="6.5" text-anchor="middle" font-weight="normal" fill="#4D4D4D" color="#4D4D4D" >100</text>
<line x1="432.00" y1="181.50" x2="432.00" y2="183.40" stroke="#2B2B2B" stroke-width="0.9" />
<text x="432.00" y="189.40" font-size="6.5" text-anchor="middle" font-weight="normal" fill="#4D4D4D" color="#4D4D4D" >150</text>
<text class="s" x="397.00" y="197.40" font-size="7.0" text-anchor="middle" font-weight="normal" fill="#000" color="#000" >Angle (degrees)</text>
<text class="s" x="314.00" y="143.30" font-size="7.0" text-anchor="middle" font-weight="normal" fill="#000" color="#000" transform="rotate(-90 314.00 143.30)" >cumulative</text>
<text class="s" x="320.90" y="143.30" font-size="7.0" text-anchor="middle" font-weight="normal" fill="#000" color="#000" transform="rotate(-90 320.90 143.30)" >frequency</text>
<polyline points="349.00,177.50 352.56,177.50 352.56,175.46 353.69,175.46 353.69,173.43 354.82,173.43 354.82,171.39 355.98,171.39 355.98,169.35 357.21,169.35 357.21,167.32 358.44,167.32 358.44,165.28 359.65,165.28 359.65,163.24 360.82,163.24 360.82,161.21 361.57,161.21 361.57,159.17 361.90,159.17 361.90,157.13 362.23,157.13 362.23,155.10 362.56,155.10 362.56,153.06 362.89,153.06 362.89,151.02 364.48,151.02 364.48,148.99 365.71,148.99 365.71,146.95 366.84,146.95 366.84,144.91 369.91,144.91 369.91,142.88 373.43,142.88 373.43,140.84 374.19,140.84 374.19,138.80 375.29,138.80 375.29,136.76 388.49,136.76 388.49,134.73 389.11,134.73 389.11,132.69 389.74,132.69 389.74,130.65 390.44,130.65 390.44,128.62 391.13,128.62 391.13,126.58 391.90,126.58 391.90,124.54 392.71,124.54 392.71,122.51 397.20,122.51 397.20,120.47 400.22,120.47 400.22,118.43 401.03,118.43 401.03,116.40 401.70,116.40 401.70,114.36 403.56,114.36 403.56,112.32 407.09,112.32 407.09,110.29 411.59,110.29 411.59,108.25 454.50,108.25" fill="none" stroke="#999999" stroke-width="3.2" stroke-linejoin="round" />
<polyline points="340.50,177.50 346.46,177.50 346.46,175.99 347.38,175.99 347.38,174.49 349.13,174.49 349.13,172.98 350.65,172.98 350.65,171.48 351.93,171.48 351.93,169.97 353.17,169.97 353.17,168.47 354.19,168.47 354.19,166.96 355.21,166.96 355.21,165.46 356.16,165.46 356.16,163.95 356.91,163.95 356.91,162.45 357.66,162.45 357.66,160.94 359.11,160.94 359.11,159.43 365.20,159.43 365.20,157.93 367.71,157.93 367.71,156.42 368.90,156.42 368.90,154.92 369.92,154.92 369.92,153.41 370.94,153.41 370.94,151.91 373.04,151.91 373.04,150.40 375.22,150.40 375.22,148.90 377.89,148.90 377.89,147.39 380.85,147.39 380.85,145.89 383.69,145.89 383.69,144.38 386.30,144.38 386.30,142.88 388.57,142.88 388.57,141.37 390.10,141.37 390.10,139.86 391.45,139.86 391.45,138.36 392.40,138.36 392.40,136.85 393.20,136.85 393.20,135.35 394.00,135.35 394.00,133.84 394.81,133.84 394.81,132.34 395.58,132.34 395.58,130.83 396.12,130.83 396.12,129.33 396.66,129.33 396.66,127.82 397.21,127.82 397.21,126.32 397.75,126.32 397.75,124.81 398.52,124.81 398.52,123.30 399.47,123.30 399.47,121.80 400.32,121.80 400.32,120.29 400.81,120.29 400.81,118.79 401.30,118.79 401.30,117.28 401.78,117.28 401.78,115.78 402.41,115.78 402.41,114.27 403.15,114.27 403.15,112.77 404.27,112.77 404.27,111.26 407.78,111.26 407.78,109.76 430.43,109.76 430.43,108.25 454.50,108.25" fill="none" stroke="#E69F00" stroke-width="3.5" stroke-linejoin="round" />
<polyline points="340.50,177.50 341.00,177.50 341.50,177.50 342.00,177.50 342.50,177.50 343.00,177.50 343.50,177.50 344.00,177.49 344.50,177.49 345.00,177.49 345.50,177.49 346.00,177.49 346.50,177.49 347.00,177.48 347.50,177.48 348.00,177.48 348.50,177.47 349.00,177.47 349.50,177.47 350.00,177.46 350.50,177.46 351.00,177.46 351.50,177.45 352.00,177.45 352.50,177.44 353.00,177.44 353.50,177.44 354.00,177.43 354.50,177.43 355.00,177.42 355.50,177.42 356.00,177.41 356.50,177.40 357.00,177.40 357.50,177.39 358.00,177.39 358.50,177.38 359.00,177.37 359.50,177.37 360.00,177.36 360.50,177.35 361.00,177.34 361.50,177.33 362.00,177.32 362.50,177.31 363.00,177.29 363.50,177.28 364.00,177.26 364.50,177.24 365.00,177.22 365.50,177.19 366.00,177.17 366.50,177.15 367.00,177.12 367.50,177.09 368.00,177.07 368.50,177.04 369.00,177.01 369.50,176.98 370.00,176.95 370.50,176.91 371.00,176.87 371.50,176.83 372.00,176.78 372.50,176.72 373.00,176.66 373.50,176.60 374.00,176.53 374.50,176.46 375.00,176.39 375.50,176.31 376.00,176.22 376.50,176.13 377.00,176.02 377.50,175.91 378.00,175.80 378.50,175.68 379.00,175.56 379.50,175.45 380.00,175.34 380.50,175.22 381.00,175.10 381.50,174.96 382.00,174.79 382.50,174.59 383.00,174.31 383.50,173.91 384.00,173.41 384.50,172.83 385.00,172.19 385.50,171.50 386.00,170.78 386.50,170.05 387.00,169.30 387.50,168.46 388.00,167.53 388.50,166.53 389.00,165.53 389.50,164.54 390.00,163.58 390.50,162.65 391.00,161.70 391.50,160.73 392.00,159.72 392.50,158.64 393.00,157.49 393.50,156.29 394.00,155.04 394.50,153.78 395.00,152.50 395.50,151.23 396.00,149.94 396.50,148.63 397.00,147.28 397.50,145.88 398.00,144.41 398.50,142.87 399.00,141.26 399.50,139.61 400.00,137.88 400.50,136.06 401.00,134.23 401.50,132.48 402.00,130.83 402.50,129.21 403.00,127.65 403.50,126.15 404.00,124.72 404.50,123.37 405.00,122.07 405.50,120.82 406.00,119.67 406.50,118.64 407.00,117.69 407.50,116.79 408.00,115.94 408.50,115.16 409.00,114.47 409.50,113.89 410.00,113.40 410.50,112.95 411.00,112.54 411.50,112.15 412.00,111.81 412.50,111.51 413.00,111.24 413.50,111.02 414.00,110.82 414.50,110.64 415.00,110.46 415.50,110.30 416.00,110.14 416.50,110.00 417.00,109.86 417.50,109.74 418.00,109.63 418.50,109.53 419.00,109.43 419.50,109.36 420.00,109.29 420.50,109.23 421.00,109.17 421.50,109.11 422.00,109.06 422.50,109.01 423.00,108.96 423.50,108.91 424.00,108.86 424.50,108.82 425.00,108.78 425.50,108.74 426.00,108.71 426.50,108.68 427.00,108.65 427.50,108.62 428.00,108.59 428.50,108.57 429.00,108.56 429.50,108.54 430.00,108.53 430.50,108.52 431.00,108.51 431.50,108.49 432.00,108.48 432.50,108.47 433.00,108.46 433.50,108.46 434.00,108.45 434.50,108.44 435.00,108.43 435.50,108.42 436.00,108.41 436.50,108.40 437.00,108.39 437.50,108.39 438.00,108.38 438.50,108.37 439.00,108.36 439.50,108.36 440.00,108.35 440.50,108.34 441.00,108.34 441.50,108.33 442.00,108.32 442.50,108.32 443.00,108.31 443.50,108.31 444.00,108.30 444.50,108.30 445.00,108.29 445.50,108.29 446.00,108.28 446.50,108.28 447.00,108.28 447.50,108.27 448.00,108.27 448.50,108.27 449.00,108.26 449.50,108.26 450.00,108.26 450.50,108.26 451.00,108.26 451.50,108.25 452.00,108.25 452.50,108.25 453.00,108.25 453.50,108.25 454.00,108.25 454.50,108.25" fill="none" stroke="#009E73" stroke-width="3.0" stroke-linejoin="round" />
<polyline points="340.50,177.50 341.00,177.50 341.50,177.50 342.00,177.50 342.50,177.50 343.00,177.50 343.50,177.50 344.00,177.49 344.50,177.49 345.00,177.49 345.50,177.49 346.00,177.49 346.50,177.49 347.00,177.48 347.50,177.48 348.00,177.48 348.50,177.47 349.00,177.47 349.50,177.47 350.00,177.46 350.50,177.46 351.00,177.46 351.50,177.45 352.00,177.45 352.50,177.44 353.00,177.44 353.50,177.44 354.00,177.43 354.50,177.43 355.00,177.42 355.50,177.42 356.00,177.41 356.50,177.40 357.00,177.40 357.50,177.39 358.00,177.39 358.50,177.38 359.00,177.37 359.50,177.37 360.00,177.36 360.50,177.35 361.00,177.34 361.50,177.33 362.00,177.32 362.50,177.31 363.00,177.29 363.50,177.28 364.00,177.26 364.50,177.24 365.00,177.22 365.50,177.19 366.00,177.17 366.50,177.15 367.00,177.12 367.50,177.09 368.00,177.07 368.50,177.04 369.00,177.01 369.50,176.98 370.00,176.95 370.50,176.91 371.00,176.87 371.50,176.83 372.00,176.78 372.50,176.72 373.00,176.66 373.50,176.60 374.00,176.53 374.50,176.46 375.00,176.39 375.50,176.31 376.00,176.22 376.50,176.13 377.00,176.02 377.50,175.91 378.00,175.80 378.50,175.68 379.00,175.56 379.50,175.45 380.00,175.34 380.50,175.22 381.00,175.10 381.50,174.96 382.00,174.79 382.50,174.59 383.00,174.31 383.50,173.91 384.00,173.41 384.50,172.83 385.00,172.19 385.50,171.50 386.00,170.78 386.50,170.05 387.00,169.30 387.50,168.46 388.00,167.53 388.50,166.53 389.00,165.53 389.50,164.54 390.00,163.58 390.50,162.65 391.00,161.70 391.50,160.73 392.00,159.72 392.50,158.64 393.00,157.49 393.50,156.29 394.00,155.04 394.50,153.78 395.00,152.50 395.50,151.23 396.00,149.94 396.50,148.63 397.00,147.28 397.50,145.88 398.00,144.41 398.50,142.87 399.00,141.26 399.50,139.61 400.00,137.88 400.50,136.06 401.00,134.23 401.50,132.48 402.00,130.83 402.50,129.21 403.00,127.65 403.50,126.15 404.00,124.72 404.50,123.37 405.00,122.07 405.50,120.82 406.00,119.67 406.50,118.64 407.00,117.69 407.50,116.79 408.00,115.94 408.50,115.16 409.00,114.47 409.50,113.89 410.00,113.40 410.50,112.95 411.00,112.54 411.50,112.15 412.00,111.81 412.50,111.51 413.00,111.24 413.50,111.02 414.00,110.82 414.50,110.64 415.00,110.46 415.50,110.30 416.00,110.14 416.50,110.00 417.00,109.86 417.50,109.74 418.00,109.63 418.50,109.53 419.00,109.43 419.50,109.36 420.00,109.29 420.50,109.23 421.00,109.17 421.50,109.11 422.00,109.06 422.50,109.01 423.00,108.96 423.50,108.91 424.00,108.86 424.50,108.82 425.00,108.78 425.50,108.74 426.00,108.71 426.50,108.68 427.00,108.65 427.50,108.62 428.00,108.59 428.50,108.57 429.00,108.56 429.50,108.54 430.00,108.53 430.50,108.52 431.00,108.51 431.50,108.49 432.00,108.48 432.50,108.47 433.00,108.46 433.50,108.46 434.00,108.45 434.50,108.44 435.00,108.43 435.50,108.42 436.00,108.41 436.50,108.40 437.00,108.39 437.50,108.39 438.00,108.38 438.50,108.37 439.00,108.36 439.50,108.36 440.00,108.35 440.50,108.34 441.00,108.34 441.50,108.33 442.00,108.32 442.50,108.32 443.00,108.31 443.50,108.31 444.00,108.30 444.50,108.30 445.00,108.29 445.50,108.29 446.00,108.28 446.50,108.28 447.00,108.28 447.50,108.27 448.00,108.27 448.50,108.27 449.00,108.26 449.50,108.26 450.00,108.26 450.50,108.26 451.00,108.26 451.50,108.25 452.00,108.25 452.50,108.25 453.00,108.25 453.50,108.25 454.00,108.25 454.50,108.25" fill="none" stroke="#0072B2" stroke-width="3.0" stroke-linejoin="round" stroke-dasharray="11 11.3" stroke-dashoffset="-5.4" transform="translate(0.7 0.5)"/>
<line x1="405.40" y1="137.40" x2="413.80" y2="137.40" stroke="#999999" stroke-width="3.2" />
<text class="s" x="418.80" y="139.70" font-size="6.8" text-anchor="start" font-weight="normal" fill="#000" color="#000" >forked</text>
<line x1="405.40" y1="148.70" x2="413.80" y2="148.70" stroke="#E69F00" stroke-width="3.2" />
<text class="s" x="418.80" y="151.00" font-size="6.8" text-anchor="start" font-weight="normal" fill="#000" color="#000" >predicted</text>
<line x1="405.40" y1="160.00" x2="413.80" y2="160.00" stroke="#0072B2" stroke-width="3.2" />
<text class="s" x="418.80" y="162.30" font-size="6.8" text-anchor="start" font-weight="normal" fill="#000" color="#000" >theoretical</text>
<line x1="405.40" y1="171.30" x2="413.80" y2="171.30" stroke="#009E73" stroke-width="3.2" />
<text class="s" x="418.80" y="173.60" font-size="6.8" text-anchor="start" font-weight="normal" fill="#000" color="#000" >unrelated</text>
<line x1="331.50" y1="207.00" x2="331.50" y2="283.00" stroke="#2B2B2B" stroke-width="1.0" />
<line x1="331.00" y1="282.50" x2="454.50" y2="282.50" stroke="#2B2B2B" stroke-width="1.0" />
<line x1="329.50" y1="259.25" x2="331.50" y2="259.25" stroke="#2B2B2B" stroke-width="0.9" />
<text x="327.60" y="261.45" font-size="6.5" text-anchor="end" font-weight="normal" fill="#4D4D4D" color="#4D4D4D" >1</text>
<line x1="363.00" y1="282.50" x2="363.00" y2="284.40" stroke="#2B2B2B" stroke-width="0.9" />
<text x="363.00" y="290.60" font-size="6.5" text-anchor="middle" font-weight="normal" fill="#4D4D4D" color="#4D4D4D" >1</text>
<line x1="329.50" y1="234.65" x2="331.50" y2="234.65" stroke="#2B2B2B" stroke-width="0.9" />
<text x="327.60" y="236.85" font-size="6.5" text-anchor="end" font-weight="normal" fill="#4D4D4D" color="#4D4D4D" >2</text>
<line x1="404.00" y1="282.50" x2="404.00" y2="284.40" stroke="#2B2B2B" stroke-width="0.9" />
<text x="404.00" y="290.60" font-size="6.5" text-anchor="middle" font-weight="normal" fill="#4D4D4D" color="#4D4D4D" >2</text>
<line x1="329.50" y1="210.05" x2="331.50" y2="210.05" stroke="#2B2B2B" stroke-width="0.9" />
<text x="327.60" y="212.25" font-size="6.5" text-anchor="end" font-weight="normal" fill="#4D4D4D" color="#4D4D4D" >3</text>
<line x1="445.00" y1="282.50" x2="445.00" y2="284.40" stroke="#2B2B2B" stroke-width="0.9" />
<text x="445.00" y="290.60" font-size="6.5" text-anchor="middle" font-weight="normal" fill="#4D4D4D" color="#4D4D4D" >3</text>
<text class="s" x="392.50" y="298.20" font-size="7.0" text-anchor="middle" font-weight="normal" fill="#000" color="#000" >actual distance</text>
<text class="s" x="314.00" y="244.00" font-size="7.0" text-anchor="middle" font-weight="normal" fill="#000" color="#000" transform="rotate(-90 314.00 244.00)" >predicted</text>
<text class="s" x="320.90" y="244.00" font-size="7.0" text-anchor="middle" font-weight="normal" fill="#000" color="#000" transform="rotate(-90 320.90 244.00)" >distance</text>
<circle cx="389.25" cy="209.50" r="2.9" fill="#000"/>
<circle cx="448.75" cy="233.50" r="2.9" fill="#000"/>
<circle cx="397.30" cy="230.00" r="2.9" fill="#000"/>
<circle cx="400.20" cy="230.00" r="2.9" fill="#000"/>
<circle cx="385.60" cy="236.50" r="2.9" fill="#000"/>
<circle cx="385.50" cy="241.40" r="2.9" fill="#000"/>
<circle cx="394.00" cy="241.00" r="2.9" fill="#000"/>
<circle cx="400.00" cy="241.00" r="2.9" fill="#000"/>
<circle cx="391.00" cy="251.00" r="2.9" fill="#000"/>
<circle cx="366.60" cy="240.60" r="2.9" fill="#000"/>
<circle cx="359.60" cy="244.00" r="2.9" fill="#000"/>
<circle cx="343.80" cy="245.70" r="2.9" fill="#000"/>
<circle cx="337.80" cy="258.00" r="2.9" fill="#000"/>
<circle cx="339.40" cy="261.30" r="2.9" fill="#000"/>
<circle cx="353.40" cy="256.40" r="2.9" fill="#000"/>
<circle cx="356.70" cy="256.40" r="2.9" fill="#000"/>
<circle cx="363.20" cy="253.00" r="2.9" fill="#000"/>
<circle cx="368.20" cy="253.00" r="2.9" fill="#000"/>
<circle cx="364.90" cy="256.40" r="2.9" fill="#000"/>
<circle cx="367.40" cy="259.70" r="2.9" fill="#000"/>
<circle cx="364.00" cy="260.50" r="2.9" fill="#000"/>
<circle cx="367.40" cy="263.80" r="2.9" fill="#000"/>
<circle cx="371.50" cy="258.80" r="2.9" fill="#000"/>
<circle cx="375.60" cy="261.30" r="2.9" fill="#000"/>
<circle cx="378.90" cy="259.70" r="2.9" fill="#000"/>
<circle cx="359.10" cy="267.00" r="2.9" fill="#000"/>
<circle cx="370.70" cy="269.90" r="2.9" fill="#000"/>
<circle cx="355.80" cy="273.20" r="2.9" fill="#000"/>
<circle cx="337.00" cy="272.00" r="2.9" fill="#000"/>
<circle cx="340.20" cy="274.50" r="2.9" fill="#000"/>
<circle cx="342.70" cy="278.60" r="2.9" fill="#000"/>
<circle cx="345.20" cy="277.00" r="2.9" fill="#000"/>
<circle cx="347.60" cy="273.70" r="2.9" fill="#000"/>
<circle cx="350.10" cy="274.50" r="2.9" fill="#000"/>
<circle cx="366.00" cy="257.00" r="2.9" fill="#000"/>
<circle cx="362.00" cy="257.50" r="2.9" fill="#000"/>
<circle cx="369.50" cy="255.50" r="2.9" fill="#000"/>
<circle cx="365.50" cy="262.00" r="2.9" fill="#000"/>
<text class="s" x="493.30" y="11.90" font-size="7.0" text-anchor="start" font-weight="normal" fill="#000" color="#000" >lineage</text>
<line x1="519.80" y1="9.60" x2="523.70" y2="9.60" stroke="#F8766D" stroke-width="1.2" />
<text class="s" x="526.80" y="11.90" font-size="6.8" text-anchor="start" font-weight="normal" fill="#000" color="#000" >p53 ko</text>
<line x1="553.90" y1="9.60" x2="557.80" y2="9.60" stroke="#A3A500" stroke-width="1.2" />
<text class="s" x="560.90" y="11.90" font-size="6.8" text-anchor="start" font-weight="normal" fill="#000" color="#000" >SA1035</text>
<line x1="590.60" y1="9.60" x2="594.50" y2="9.60" stroke="#00BF7D" stroke-width="1.2" />
<text class="s" x="597.60" y="11.90" font-size="6.8" text-anchor="start" font-weight="normal" fill="#000" color="#000" >SA532</text>
<line x1="624.90" y1="9.60" x2="628.80" y2="9.60" stroke="#00B0F6" stroke-width="1.2" />
<text class="s" x="631.90" y="11.90" font-size="6.8" text-anchor="start" font-weight="normal" fill="#000" color="#000" >SA535</text>
<line x1="656.90" y1="9.60" x2="660.80" y2="9.60" stroke="#E76BF3" stroke-width="1.2" />
<text class="s" x="663.90" y="11.90" font-size="6.8" text-anchor="start" font-weight="normal" fill="#000" color="#000" >SA609</text>
<rect x="493.40" y="21.3" width="45.0" height="11.6" fill="#FFFFFF" stroke="#333333" stroke-width="0.9"/>
<text class="s" x="515.90" y="29.60" font-size="7.2" text-anchor="middle" font-weight="normal" fill="#1A1A1A" color="#1A1A1A" >cosine</text>
<line x1="493.40" y1="80.50" x2="538.40" y2="80.50" stroke="#2B2B2B" stroke-width="1.0" />
<line x1="493.50" y1="80.50" x2="493.50" y2="82.40" stroke="#2B2B2B" stroke-width="0.9" />
<text x="493.50" y="88.00" font-size="6.5" text-anchor="middle" font-weight="normal" fill="#4D4D4D" color="#4D4D4D" >0</text>
<line x1="502.02" y1="80.50" x2="502.02" y2="82.40" stroke="#2B2B2B" stroke-width="0.9" />
<text x="502.02" y="88.00" font-size="6.5" text-anchor="middle" font-weight="normal" fill="#4D4D4D" color="#4D4D4D" >5</text>
<line x1="510.54" y1="80.50" x2="510.54" y2="82.40" stroke="#2B2B2B" stroke-width="0.9" />
<text x="510.54" y="88.00" font-size="6.5" text-anchor="middle" font-weight="normal" fill="#4D4D4D" color="#4D4D4D" >10</text>
<line x1="519.06" y1="80.50" x2="519.06" y2="82.40" stroke="#2B2B2B" stroke-width="0.9" />
<text x="519.06" y="88.00" font-size="6.5" text-anchor="middle" font-weight="normal" fill="#4D4D4D" color="#4D4D4D" >15</text>
<line x1="527.58" y1="80.50" x2="527.58" y2="82.40" stroke="#2B2B2B" stroke-width="0.9" />
<text x="527.58" y="88.00" font-size="6.5" text-anchor="middle" font-weight="normal" fill="#4D4D4D" color="#4D4D4D" >20</text>
<line x1="536.10" y1="80.50" x2="536.10" y2="82.40" stroke="#2B2B2B" stroke-width="0.9" />
<text x="536.10" y="88.00" font-size="6.5" text-anchor="middle" font-weight="normal" fill="#4D4D4D" color="#4D4D4D" >25</text>
<rect x="541.60" y="21.3" width="45.0" height="11.6" fill="#FFFFFF" stroke="#333333" stroke-width="0.9"/>
<text class="s" x="564.10" y="29.60" font-size="7.2" text-anchor="middle" font-weight="normal" fill="#1A1A1A" color="#1A1A1A" >euclidean</text>
<line x1="541.60" y1="80.50" x2="586.60" y2="80.50" stroke="#2B2B2B" stroke-width="1.0" />
<line x1="541.70" y1="80.50" x2="541.70" y2="82.40" stroke="#2B2B2B" stroke-width="0.9" />
<text x="541.70" y="88.00" font-size="6.5" text-anchor="middle" font-weight="normal" fill="#4D4D4D" color="#4D4D4D" >0</text>
<line x1="550.22" y1="80.50" x2="550.22" y2="82.40" stroke="#2B2B2B" stroke-width="0.9" />
<text x="550.22" y="88.00" font-size="6.5" text-anchor="middle" font-weight="normal" fill="#4D4D4D" color="#4D4D4D" >5</text>
<line x1="558.74" y1="80.50" x2="558.74" y2="82.40" stroke="#2B2B2B" stroke-width="0.9" />
<text x="558.74" y="88.00" font-size="6.5" text-anchor="middle" font-weight="normal" fill="#4D4D4D" color="#4D4D4D" >10</text>
<line x1="567.26" y1="80.50" x2="567.26" y2="82.40" stroke="#2B2B2B" stroke-width="0.9" />
<text x="567.26" y="88.00" font-size="6.5" text-anchor="middle" font-weight="normal" fill="#4D4D4D" color="#4D4D4D" >15</text>
<line x1="575.78" y1="80.50" x2="575.78" y2="82.40" stroke="#2B2B2B" stroke-width="0.9" />
<text x="575.78" y="88.00" font-size="6.5" text-anchor="middle" font-weight="normal" fill="#4D4D4D" color="#4D4D4D" >20</text>
<line x1="584.30" y1="80.50" x2="584.30" y2="82.40" stroke="#2B2B2B" stroke-width="0.9" />
<text x="584.30" y="88.00" font-size="6.5" text-anchor="middle" font-weight="normal" fill="#4D4D4D" color="#4D4D4D" >25</text>
<rect x="589.90" y="21.3" width="45.0" height="11.6" fill="#FFFFFF" stroke="#333333" stroke-width="0.9"/>
<text class="s" x="612.40" y="29.60" font-size="7.2" text-anchor="middle" font-weight="normal" fill="#1A1A1A" color="#1A1A1A" >overlap</text>
<line x1="589.90" y1="80.50" x2="634.90" y2="80.50" stroke="#2B2B2B" stroke-width="1.0" />
<line x1="590.00" y1="80.50" x2="590.00" y2="82.40" stroke="#2B2B2B" stroke-width="0.9" />
<text x="590.00" y="88.00" font-size="6.5" text-anchor="middle" font-weight="normal" fill="#4D4D4D" color="#4D4D4D" >0</text>
<line x1="598.52" y1="80.50" x2="598.52" y2="82.40" stroke="#2B2B2B" stroke-width="0.9" />
<text x="598.52" y="88.00" font-size="6.5" text-anchor="middle" font-weight="normal" fill="#4D4D4D" color="#4D4D4D" >5</text>
<line x1="607.04" y1="80.50" x2="607.04" y2="82.40" stroke="#2B2B2B" stroke-width="0.9" />
<text x="607.04" y="88.00" font-size="6.5" text-anchor="middle" font-weight="normal" fill="#4D4D4D" color="#4D4D4D" >10</text>
<line x1="615.56" y1="80.50" x2="615.56" y2="82.40" stroke="#2B2B2B" stroke-width="0.9" />
<text x="615.56" y="88.00" font-size="6.5" text-anchor="middle" font-weight="normal" fill="#4D4D4D" color="#4D4D4D" >15</text>
<line x1="624.08" y1="80.50" x2="624.08" y2="82.40" stroke="#2B2B2B" stroke-width="0.9" />
<text x="624.08" y="88.00" font-size="6.5" text-anchor="middle" font-weight="normal" fill="#4D4D4D" color="#4D4D4D" >20</text>
<line x1="632.60" y1="80.50" x2="632.60" y2="82.40" stroke="#2B2B2B" stroke-width="0.9" />
<text x="632.60" y="88.00" font-size="6.5" text-anchor="middle" font-weight="normal" fill="#4D4D4D" color="#4D4D4D" >25</text>
<rect x="638.20" y="21.3" width="45.0" height="11.6" fill="#FFFFFF" stroke="#333333" stroke-width="0.9"/>
<text class="s" x="660.70" y="29.60" font-size="7.2" text-anchor="middle" font-weight="normal" fill="#1A1A1A" color="#1A1A1A" >wasserstein</text>
<line x1="638.20" y1="80.50" x2="683.20" y2="80.50" stroke="#2B2B2B" stroke-width="1.0" />
<line x1="638.30" y1="80.50" x2="638.30" y2="82.40" stroke="#2B2B2B" stroke-width="0.9" />
<text x="638.30" y="88.00" font-size="6.5" text-anchor="middle" font-weight="normal" fill="#4D4D4D" color="#4D4D4D" >0</text>
<line x1="646.82" y1="80.50" x2="646.82" y2="82.40" stroke="#2B2B2B" stroke-width="0.9" />
<text x="646.82" y="88.00" font-size="6.5" text-anchor="middle" font-weight="normal" fill="#4D4D4D" color="#4D4D4D" >5</text>
<line x1="655.34" y1="80.50" x2="655.34" y2="82.40" stroke="#2B2B2B" stroke-width="0.9" />
<text x="655.34" y="88.00" font-size="6.5" text-anchor="middle" font-weight="normal" fill="#4D4D4D" color="#4D4D4D" >10</text>
<line x1="663.86" y1="80.50" x2="663.86" y2="82.40" stroke="#2B2B2B" stroke-width="0.9" />
<text x="663.86" y="88.00" font-size="6.5" text-anchor="middle" font-weight="normal" fill="#4D4D4D" color="#4D4D4D" >15</text>
<line x1="672.38" y1="80.50" x2="672.38" y2="82.40" stroke="#2B2B2B" stroke-width="0.9" />
<text x="672.38" y="88.00" font-size="6.5" text-anchor="middle" font-weight="normal" fill="#4D4D4D" color="#4D4D4D" >20</text>
<line x1="680.90" y1="80.50" x2="680.90" y2="82.40" stroke="#2B2B2B" stroke-width="0.9" />
<text x="680.90" y="88.00" font-size="6.5" text-anchor="middle" font-weight="normal" fill="#4D4D4D" color="#4D4D4D" >25</text>
<line x1="493.50" y1="32.90" x2="493.50" y2="81.00" stroke="#2B2B2B" stroke-width="1.0" />
<line x1="491.50" y1="78.15" x2="493.50" y2="78.15" stroke="#2B2B2B" stroke-width="0.9" />
<text x="489.40" y="80.35" font-size="6.5" text-anchor="end" font-weight="normal" fill="#4D4D4D" color="#4D4D4D" >0.00</text>
<line x1="491.50" y1="67.41" x2="493.50" y2="67.41" stroke="#2B2B2B" stroke-width="0.9" />
<text x="489.40" y="69.61" font-size="6.5" text-anchor="end" font-weight="normal" fill="#4D4D4D" color="#4D4D4D" >0.25</text>
<line x1="491.50" y1="56.68" x2="493.50" y2="56.68" stroke="#2B2B2B" stroke-width="0.9" />
<text x="489.40" y="58.88" font-size="6.5" text-anchor="end" font-weight="normal" fill="#4D4D4D" color="#4D4D4D" >0.50</text>
<line x1="491.50" y1="45.94" x2="493.50" y2="45.94" stroke="#2B2B2B" stroke-width="0.9" />
<text x="489.40" y="48.14" font-size="6.5" text-anchor="end" font-weight="normal" fill="#4D4D4D" color="#4D4D4D" >0.75</text>
<line x1="491.50" y1="35.20" x2="493.50" y2="35.20" stroke="#2B2B2B" stroke-width="0.9" />
<text x="489.40" y="37.40" font-size="6.5" text-anchor="end" font-weight="normal" fill="#4D4D4D" color="#4D4D4D" >1.00</text>
<text class="s" x="588.20" y="95.60" font-size="7.0" text-anchor="middle" font-weight="normal" fill="#000" color="#000" >time (days)</text>
<text class="s" x="466.60" y="57.00" font-size="7.0" text-anchor="middle" font-weight="normal" fill="#000" color="#000" transform="rotate(-90 466.60 57.00)" >frac beat</text>
<text class="s" x="473.40" y="57.00" font-size="7.0" text-anchor="middle" font-weight="normal" fill="#000" color="#000" transform="rotate(-90 473.40 57.00)" >baseline</text>
<polyline points="495.10,35.10 507.10,35.10 508.70,49.30 518.70,49.30" fill="none" stroke="#A3A500" stroke-width="1.6" stroke-linejoin="round" />
<polyline points="495.10,44.00 497.70,47.10 499.50,47.10 501.10,51.90 508.00,51.90 509.70,56.50 512.20,60.80 518.70,60.80" fill="none" stroke="#00B0F6" stroke-width="1.6" stroke-linejoin="round" />
<polyline points="495.10,49.20 497.50,49.20 500.30,56.50 518.70,56.50" fill="none" stroke="#00BF7D" stroke-width="1.6" stroke-linejoin="round" />
<polyline points="495.10,54.00 496.50,58.20 498.50,59.00 499.50,60.50 502.00,65.60 519.00,65.60 520.80,71.00 529.30,71.00 531.00,77.60 536.20,77.60" fill="none" stroke="#F8766D" stroke-width="1.6" stroke-linejoin="round" />
<polyline points="495.10,55.70 497.50,57.50 499.40,60.80 501.00,62.50 502.00,66.80 515.70,66.80 517.40,69.00 518.70,69.00" fill="none" stroke="#E76BF3" stroke-width="1.6" stroke-linejoin="round" />
<polyline points="543.50,35.10 546.50,35.10 547.40,49.30 567.00,49.30" fill="none" stroke="#A3A500" stroke-width="1.6" stroke-linejoin="round" />
<polyline points="543.50,38.90 555.10,38.90 557.20,43.30 567.00,43.30" fill="none" stroke="#00B0F6" stroke-width="1.6" stroke-linejoin="round" />
<polyline points="545.70,49.70 546.60,53.10 555.10,53.10 558.50,59.00 567.00,59.00 568.80,65.60 584.20,65.60" fill="none" stroke="#F8766D" stroke-width="1.6" stroke-linejoin="round" />
<polyline points="543.50,42.80 544.80,46.50 545.70,49.70 552.00,49.70 553.40,54.00 555.10,61.60 562.00,61.60 563.70,70.70 567.00,70.70" fill="none" stroke="#00BF7D" stroke-width="1.6" stroke-linejoin="round" />
<polyline points="543.50,52.20 544.80,55.70 548.00,56.50 550.00,59.00 551.50,61.60 554.30,66.80 556.00,70.70 567.00,70.70" fill="none" stroke="#E76BF3" stroke-width="1.6" stroke-linejoin="round" />
<polyline points="592.00,35.10 611.70,35.10 613.20,43.00 614.20,49.30 615.20,49.30" fill="none" stroke="#A3A500" stroke-width="1.6" stroke-linejoin="round" />
<polyline points="592.00,56.50 596.00,56.50 601.50,58.00 603.10,63.40 615.40,63.40" fill="none" stroke="#00BF7D" stroke-width="1.6" stroke-linejoin="round" />
<polyline points="593.70,47.10 595.40,48.80 597.10,54.00 599.70,54.00 602.30,60.00 604.00,65.00 610.00,65.00 611.30,77.60 632.20,77.60" fill="none" stroke="#F8766D" stroke-width="1.6" stroke-linejoin="round" />
<polyline points="592.00,43.70 593.70,51.40 596.20,53.10 598.80,57.00 610.80,57.00 614.20,64.20 615.40,65.00" fill="none" stroke="#00B0F6" stroke-width="1.6" stroke-linejoin="round" />
<polyline points="592.00,39.40 592.90,45.50 594.60,52.20 596.30,58.20 598.80,61.60 601.40,65.00 603.10,65.90 615.40,66.30" fill="none" stroke="#E76BF3" stroke-width="1.6" stroke-linejoin="round" />
<polyline points="640.20,35.50 641.20,39.40 655.20,39.40 657.80,43.70 663.80,43.70" fill="none" stroke="#00B0F6" stroke-width="1.6" stroke-linejoin="round" />
<polyline points="640.20,42.00 650.10,42.00 651.80,49.20 663.80,49.20" fill="none" stroke="#00BF7D" stroke-width="1.6" stroke-linejoin="round" />
<polyline points="640.70,53.10 643.30,59.00 655.20,59.00 657.00,65.00 663.00,65.00 665.50,71.00 680.90,71.00" fill="none" stroke="#F8766D" stroke-width="1.6" stroke-linejoin="round" />
<polyline points="640.20,37.70 641.20,48.80 645.50,48.80 647.50,54.00 647.50,63.40 663.80,63.40" fill="none" stroke="#A3A500" stroke-width="1.6" stroke-linejoin="round" />
<polyline points="640.20,46.20 642.50,49.50 645.00,53.10 649.30,55.70 651.80,62.50 654.40,65.90 657.00,69.30 658.70,71.00 663.80,71.00" fill="none" stroke="#E76BF3" stroke-width="1.6" stroke-linejoin="round" />
<rect x="496.50" y="104.70" width="44.0" height="11.2" fill="#FFFFFF" stroke="#333333" stroke-width="0.9"/>
<text class="s" x="518.50" y="112.80" font-size="7.2" text-anchor="middle" font-weight="normal" fill="#1A1A1A" color="#1A1A1A" >cosine</text>
<rect x="498.20" y="116.80" width="10.87" height="5.3" fill="#D3D3D3" stroke="#000" stroke-width="1.1"/>
<rect x="498.20" y="122.95" width="20.75" height="5.3" fill="#D3D3D3" stroke="#000" stroke-width="1.1"/>
<rect x="498.20" y="129.10" width="25.69" height="5.3" fill="#D3D3D3" stroke="#000" stroke-width="1.1"/>
<rect x="498.20" y="135.25" width="34.58" height="5.3" fill="#D3D3D3" stroke="#000" stroke-width="1.1"/>
<line x1="498.20" y1="140.85" x2="498.20" y2="147.25" stroke="#000" stroke-width="1.1" />
<line x1="496.50" y1="147.50" x2="540.50" y2="147.50" stroke="#2B2B2B" stroke-width="1.0" />
<line x1="498.20" y1="147.50" x2="498.20" y2="149.40" stroke="#2B2B2B" stroke-width="0.9" />
<text x="498.20" y="155.80" font-size="6.5" text-anchor="middle" font-weight="normal" fill="#4D4D4D" color="#4D4D4D" >0.0</text>
<line x1="522.90" y1="147.50" x2="522.90" y2="149.40" stroke="#2B2B2B" stroke-width="0.9" />
<text x="522.90" y="155.80" font-size="6.5" text-anchor="middle" font-weight="normal" fill="#4D4D4D" color="#4D4D4D" >0.5</text>
<rect x="544.60" y="104.70" width="44.0" height="11.2" fill="#FFFFFF" stroke="#333333" stroke-width="0.9"/>
<text class="s" x="566.60" y="112.80" font-size="7.2" text-anchor="middle" font-weight="normal" fill="#1A1A1A" color="#1A1A1A" >euclidean</text>
<rect x="546.30" y="116.80" width="6.92" height="5.3" fill="#D3D3D3" stroke="#000" stroke-width="1.1"/>
<rect x="546.30" y="122.95" width="40.01" height="5.3" fill="#D3D3D3" stroke="#000" stroke-width="1.1"/>
<rect x="546.30" y="129.10" width="7.41" height="5.3" fill="#D3D3D3" stroke="#000" stroke-width="1.1"/>
<rect x="546.30" y="135.25" width="32.60" height="5.3" fill="#D3D3D3" stroke="#000" stroke-width="1.1"/>
<rect x="546.30" y="141.40" width="13.34" height="5.3" fill="#D3D3D3" stroke="#000" stroke-width="1.1"/>
<line x1="544.60" y1="147.50" x2="588.60" y2="147.50" stroke="#2B2B2B" stroke-width="1.0" />
<line x1="546.30" y1="147.50" x2="546.30" y2="149.40" stroke="#2B2B2B" stroke-width="0.9" />
<text x="546.30" y="155.80" font-size="6.5" text-anchor="middle" font-weight="normal" fill="#4D4D4D" color="#4D4D4D" >0.0</text>
<line x1="571.00" y1="147.50" x2="571.00" y2="149.40" stroke="#2B2B2B" stroke-width="0.9" />
<text x="571.00" y="155.80" font-size="6.5" text-anchor="middle" font-weight="normal" fill="#4D4D4D" color="#4D4D4D" >0.5</text>
<rect x="591.90" y="104.70" width="44.0" height="11.2" fill="#FFFFFF" stroke="#333333" stroke-width="0.9"/>
<text class="s" x="613.90" y="112.80" font-size="7.2" text-anchor="middle" font-weight="normal" fill="#1A1A1A" color="#1A1A1A" >overlap</text>
<rect x="593.60" y="116.80" width="12.35" height="5.3" fill="#D3D3D3" stroke="#000" stroke-width="1.1"/>
<rect x="593.60" y="122.95" width="14.33" height="5.3" fill="#D3D3D3" stroke="#000" stroke-width="1.1"/>
<rect x="593.60" y="129.10" width="16.30" height="5.3" fill="#D3D3D3" stroke="#000" stroke-width="1.1"/>
<rect x="593.60" y="135.25" width="33.10" height="5.3" fill="#D3D3D3" stroke="#000" stroke-width="1.1"/>
<line x1="593.60" y1="140.85" x2="593.60" y2="147.25" stroke="#000" stroke-width="1.1" />
<line x1="591.90" y1="147.50" x2="635.90" y2="147.50" stroke="#2B2B2B" stroke-width="1.0" />
<line x1="593.60" y1="147.50" x2="593.60" y2="149.40" stroke="#2B2B2B" stroke-width="0.9" />
<text x="593.60" y="155.80" font-size="6.5" text-anchor="middle" font-weight="normal" fill="#4D4D4D" color="#4D4D4D" >0.0</text>
<line x1="618.30" y1="147.50" x2="618.30" y2="149.40" stroke="#2B2B2B" stroke-width="0.9" />
<text x="618.30" y="155.80" font-size="6.5" text-anchor="middle" font-weight="normal" fill="#4D4D4D" color="#4D4D4D" >0.5</text>
<rect x="639.50" y="104.70" width="44.0" height="11.2" fill="#FFFFFF" stroke="#333333" stroke-width="0.9"/>
<text class="s" x="661.50" y="112.80" font-size="7.2" text-anchor="middle" font-weight="normal" fill="#1A1A1A" color="#1A1A1A" >wasserstein</text>
<rect x="641.20" y="116.80" width="6.42" height="5.3" fill="#D3D3D3" stroke="#000" stroke-width="1.1"/>
<rect x="641.20" y="122.95" width="39.52" height="5.3" fill="#D3D3D3" stroke="#000" stroke-width="1.1"/>
<rect x="641.20" y="129.10" width="33.10" height="5.3" fill="#D3D3D3" stroke="#000" stroke-width="1.1"/>
<rect x="641.20" y="135.25" width="16.30" height="5.3" fill="#D3D3D3" stroke="#000" stroke-width="1.1"/>
<rect x="641.20" y="141.40" width="6.42" height="5.3" fill="#D3D3D3" stroke="#000" stroke-width="1.1"/>
<line x1="639.50" y1="147.50" x2="683.50" y2="147.50" stroke="#2B2B2B" stroke-width="1.0" />
<line x1="641.20" y1="147.50" x2="641.20" y2="149.40" stroke="#2B2B2B" stroke-width="0.9" />
<text x="641.20" y="155.80" font-size="6.5" text-anchor="middle" font-weight="normal" fill="#4D4D4D" color="#4D4D4D" >0.0</text>
<line x1="665.90" y1="147.50" x2="665.90" y2="149.40" stroke="#2B2B2B" stroke-width="0.9" />
<text x="665.90" y="155.80" font-size="6.5" text-anchor="middle" font-weight="normal" fill="#4D4D4D" color="#4D4D4D" >0.5</text>
<line x1="496.50" y1="115.90" x2="496.50" y2="148.00" stroke="#2B2B2B" stroke-width="1.0" />
<line x1="494.50" y1="119.45" x2="496.50" y2="119.45" stroke="#2B2B2B" stroke-width="0.9" />
<text x="493.40" y="121.75" font-size="6.7" text-anchor="end" font-weight="normal" fill="#4D4D4D" color="#4D4D4D" >SA609</text>
<line x1="494.50" y1="125.60" x2="496.50" y2="125.60" stroke="#2B2B2B" stroke-width="0.9" />
<text x="493.40" y="127.90" font-size="6.7" text-anchor="end" font-weight="normal" fill="#4D4D4D" color="#4D4D4D" >SA535</text>
<line x1="494.50" y1="131.75" x2="496.50" y2="131.75" stroke="#2B2B2B" stroke-width="0.9" />
<text x="493.40" y="134.05" font-size="6.7" text-anchor="end" font-weight="normal" fill="#4D4D4D" color="#4D4D4D" >SA532</text>
<line x1="494.50" y1="137.90" x2="496.50" y2="137.90" stroke="#2B2B2B" stroke-width="0.9" />
<text x="493.40" y="140.20" font-size="6.7" text-anchor="end" font-weight="normal" fill="#4D4D4D" color="#4D4D4D" >SA1035</text>
<line x1="494.50" y1="144.05" x2="496.50" y2="144.05" stroke="#2B2B2B" stroke-width="0.9" />
<text x="493.40" y="146.35" font-size="6.7" text-anchor="end" font-weight="normal" fill="#4D4D4D" color="#4D4D4D" >p53 ko</text>
<text class="s" x="589.50" y="163.10" font-size="7.0" text-anchor="middle" font-weight="normal" fill="#000" color="#000" >fraction beating baseline</text>
<rect x="496.50" y="172.10" width="44.0" height="11.2" fill="#FFFFFF" stroke="#333333" stroke-width="0.9"/>
<text class="s" x="518.50" y="180.20" font-size="7.2" text-anchor="middle" font-weight="normal" fill="#1A1A1A" color="#1A1A1A" >cosine</text>
<rect x="498.20" y="184.20" width="22.23" height="5.3" fill="#D3D3D3" stroke="#000" stroke-width="1.1"/>
<rect x="498.20" y="190.35" width="27.66" height="5.3" fill="#D3D3D3" stroke="#000" stroke-width="1.1"/>
<line x1="498.20" y1="195.95" x2="498.20" y2="202.35" stroke="#000" stroke-width="1.1" />
<line x1="498.20" y1="202.10" x2="498.20" y2="208.50" stroke="#000" stroke-width="1.1" />
<rect x="498.20" y="208.80" width="23.22" height="5.3" fill="#D3D3D3" stroke="#000" stroke-width="1.1"/>
<line x1="496.50" y1="215.50" x2="540.50" y2="215.50" stroke="#2B2B2B" stroke-width="1.0" />
<line x1="498.20" y1="215.50" x2="498.20" y2="217.40" stroke="#2B2B2B" stroke-width="0.9" />
<text x="498.20" y="223.80" font-size="6.5" text-anchor="middle" font-weight="normal" fill="#4D4D4D" color="#4D4D4D" >0.0</text>
<line x1="522.90" y1="215.50" x2="522.90" y2="217.40" stroke="#2B2B2B" stroke-width="0.9" />
<text x="522.90" y="223.80" font-size="6.5" text-anchor="middle" font-weight="normal" fill="#4D4D4D" color="#4D4D4D" >0.5</text>
<rect x="544.60" y="172.10" width="44.0" height="11.2" fill="#FFFFFF" stroke="#333333" stroke-width="0.9"/>
<text class="s" x="566.60" y="180.20" font-size="7.2" text-anchor="middle" font-weight="normal" fill="#1A1A1A" color="#1A1A1A" >euclidean</text>
<rect x="546.30" y="184.20" width="21.74" height="5.3" fill="#D3D3D3" stroke="#000" stroke-width="1.1"/>
<rect x="546.30" y="190.35" width="40.01" height="5.3" fill="#D3D3D3" stroke="#000" stroke-width="1.1"/>
<line x1="546.30" y1="195.95" x2="546.30" y2="202.35" stroke="#000" stroke-width="1.1" />
<line x1="546.30" y1="202.10" x2="546.30" y2="208.50" stroke="#000" stroke-width="1.1" />
<line x1="546.30" y1="208.25" x2="546.30" y2="214.65" stroke="#000" stroke-width="1.1" />
<line x1="544.60" y1="215.50" x2="588.60" y2="215.50" stroke="#2B2B2B" stroke-width="1.0" />
<line x1="546.30" y1="215.50" x2="546.30" y2="217.40" stroke="#2B2B2B" stroke-width="0.9" />
<text x="546.30" y="223.80" font-size="6.5" text-anchor="middle" font-weight="normal" fill="#4D4D4D" color="#4D4D4D" >0.0</text>
<line x1="571.00" y1="215.50" x2="571.00" y2="217.40" stroke="#2B2B2B" stroke-width="0.9" />
<text x="571.00" y="223.80" font-size="6.5" text-anchor="middle" font-weight="normal" fill="#4D4D4D" color="#4D4D4D" >0.5</text>
<rect x="591.90" y="172.10" width="44.0" height="11.2" fill="#FFFFFF" stroke="#333333" stroke-width="0.9"/>
<text class="s" x="613.90" y="180.20" font-size="7.2" text-anchor="middle" font-weight="normal" fill="#1A1A1A" color="#1A1A1A" >overlap</text>
<rect x="593.60" y="184.20" width="23.22" height="5.3" fill="#D3D3D3" stroke="#000" stroke-width="1.1"/>
<rect x="593.60" y="190.35" width="35.57" height="5.3" fill="#D3D3D3" stroke="#000" stroke-width="1.1"/>
<line x1="593.60" y1="195.95" x2="593.60" y2="202.35" stroke="#000" stroke-width="1.1" />
<line x1="593.60" y1="202.10" x2="593.60" y2="208.50" stroke="#000" stroke-width="1.1" />
<rect x="593.60" y="208.80" width="22.23" height="5.3" fill="#D3D3D3" stroke="#000" stroke-width="1.1"/>
<line x1="591.90" y1="215.50" x2="635.90" y2="215.50" stroke="#2B2B2B" stroke-width="1.0" />
<line x1="593.60" y1="215.50" x2="593.60" y2="217.40" stroke="#2B2B2B" stroke-width="0.9" />
<text x="593.60" y="223.80" font-size="6.5" text-anchor="middle" font-weight="normal" fill="#4D4D4D" color="#4D4D4D" >0.0</text>
<line x1="618.30" y1="215.50" x2="618.30" y2="217.40" stroke="#2B2B2B" stroke-width="0.9" />
<text x="618.30" y="223.80" font-size="6.5" text-anchor="middle" font-weight="normal" fill="#4D4D4D" color="#4D4D4D" >0.5</text>
<rect x="639.50" y="172.10" width="44.0" height="11.2" fill="#FFFFFF" stroke="#333333" stroke-width="0.9"/>
<text class="s" x="661.50" y="180.20" font-size="7.2" text-anchor="middle" font-weight="normal" fill="#1A1A1A" color="#1A1A1A" >wasserstein</text>
<rect x="641.20" y="184.20" width="28.65" height="5.3" fill="#D3D3D3" stroke="#000" stroke-width="1.1"/>
<rect x="641.20" y="190.35" width="36.06" height="5.3" fill="#D3D3D3" stroke="#000" stroke-width="1.1"/>
<line x1="641.20" y1="195.95" x2="641.20" y2="202.35" stroke="#000" stroke-width="1.1" />
<line x1="641.20" y1="202.10" x2="641.20" y2="208.50" stroke="#000" stroke-width="1.1" />
<line x1="641.20" y1="208.25" x2="641.20" y2="214.65" stroke="#000" stroke-width="1.1" />
<line x1="639.50" y1="215.50" x2="683.50" y2="215.50" stroke="#2B2B2B" stroke-width="1.0" />
<line x1="641.20" y1="215.50" x2="641.20" y2="217.40" stroke="#2B2B2B" stroke-width="0.9" />
<text x="641.20" y="223.80" font-size="6.5" text-anchor="middle" font-weight="normal" fill="#4D4D4D" color="#4D4D4D" >0.0</text>
<line x1="665.90" y1="215.50" x2="665.90" y2="217.40" stroke="#2B2B2B" stroke-width="0.9" />
<text x="665.90" y="223.80" font-size="6.5" text-anchor="middle" font-weight="normal" fill="#4D4D4D" color="#4D4D4D" >0.5</text>
<line x1="496.50" y1="183.30" x2="496.50" y2="216.00" stroke="#2B2B2B" stroke-width="1.0" />
<line x1="494.50" y1="186.85" x2="496.50" y2="186.85" stroke="#2B2B2B" stroke-width="0.9" />
<text x="493.40" y="189.15" font-size="6.7" text-anchor="end" font-weight="normal" fill="#4D4D4D" color="#4D4D4D" >SA609</text>
<line x1="494.50" y1="193.00" x2="496.50" y2="193.00" stroke="#2B2B2B" stroke-width="0.9" />
<text x="493.40" y="195.30" font-size="6.7" text-anchor="end" font-weight="normal" fill="#4D4D4D" color="#4D4D4D" >SA535</text>
<line x1="494.50" y1="199.15" x2="496.50" y2="199.15" stroke="#2B2B2B" stroke-width="0.9" />
<text x="493.40" y="201.45" font-size="6.7" text-anchor="end" font-weight="normal" fill="#4D4D4D" color="#4D4D4D" >SA532</text>
<line x1="494.50" y1="205.30" x2="496.50" y2="205.30" stroke="#2B2B2B" stroke-width="0.9" />
<text x="493.40" y="207.60" font-size="6.7" text-anchor="end" font-weight="normal" fill="#4D4D4D" color="#4D4D4D" >SA1035</text>
<line x1="494.50" y1="211.45" x2="496.50" y2="211.45" stroke="#2B2B2B" stroke-width="0.9" />
<text x="493.40" y="213.75" font-size="6.7" text-anchor="end" font-weight="normal" fill="#4D4D4D" color="#4D4D4D" >p53 ko</text>
<text class="s" x="589.50" y="231.10" font-size="7.0" text-anchor="middle" font-weight="normal" fill="#000" color="#000" >fraction beating baseline</text>
<rect x="496.50" y="240.2" width="91.6" height="11.0" fill="#FFFFFF" stroke="#333333" stroke-width="0.9"/>
<text class="s" x="542.30" y="248.20" font-size="7.2" text-anchor="middle" font-weight="normal" fill="#1A1A1A" color="#1A1A1A" >forked</text>
<rect x="500.50" y="251.95" width="75.06" height="5.3" fill="#D3D3D3" stroke="#000" stroke-width="1.1"/>
<rect x="500.50" y="258.10" width="20.85" height="5.3" fill="#D3D3D3" stroke="#000" stroke-width="1.1"/>
<line x1="500.50" y1="263.70" x2="500.50" y2="270.10" stroke="#000" stroke-width="1.1" />
<rect x="500.50" y="270.40" width="4.17" height="5.3" fill="#D3D3D3" stroke="#000" stroke-width="1.1"/>
<rect x="500.50" y="276.55" width="4.17" height="5.3" fill="#D3D3D3" stroke="#000" stroke-width="1.1"/>
<line x1="496.50" y1="282.50" x2="588.10" y2="282.50" stroke="#2B2B2B" stroke-width="1.0" />
<line x1="500.50" y1="282.50" x2="500.50" y2="284.40" stroke="#2B2B2B" stroke-width="0.9" />
<text x="500.50" y="290.60" font-size="6.5" text-anchor="middle" font-weight="normal" fill="#4D4D4D" color="#4D4D4D" >0</text>
<line x1="521.35" y1="282.50" x2="521.35" y2="284.40" stroke="#2B2B2B" stroke-width="0.9" />
<text x="521.35" y="290.60" font-size="6.5" text-anchor="middle" font-weight="normal" fill="#4D4D4D" color="#4D4D4D" >5</text>
<line x1="542.20" y1="282.50" x2="542.20" y2="284.40" stroke="#2B2B2B" stroke-width="0.9" />
<text x="542.20" y="290.60" font-size="6.5" text-anchor="middle" font-weight="normal" fill="#4D4D4D" color="#4D4D4D" >10</text>
<line x1="563.05" y1="282.50" x2="563.05" y2="284.40" stroke="#2B2B2B" stroke-width="0.9" />
<text x="563.05" y="290.60" font-size="6.5" text-anchor="middle" font-weight="normal" fill="#4D4D4D" color="#4D4D4D" >15</text>
<line x1="583.90" y1="282.50" x2="583.90" y2="284.40" stroke="#2B2B2B" stroke-width="0.9" />
<text x="583.90" y="290.60" font-size="6.5" text-anchor="middle" font-weight="normal" fill="#4D4D4D" color="#4D4D4D" >20</text>
<rect x="591.70" y="240.2" width="91.6" height="11.0" fill="#FFFFFF" stroke="#333333" stroke-width="0.9"/>
<text class="s" x="637.50" y="248.20" font-size="7.2" text-anchor="middle" font-weight="normal" fill="#1A1A1A" color="#1A1A1A" >predicted</text>
<rect x="595.70" y="251.95" width="83.40" height="5.3" fill="#D3D3D3" stroke="#000" stroke-width="1.1"/>
<rect x="595.70" y="258.10" width="41.70" height="5.3" fill="#D3D3D3" stroke="#000" stroke-width="1.1"/>
<rect x="595.70" y="264.25" width="25.02" height="5.3" fill="#D3D3D3" stroke="#000" stroke-width="1.1"/>
<rect x="595.70" y="270.40" width="12.51" height="5.3" fill="#D3D3D3" stroke="#000" stroke-width="1.1"/>
<rect x="595.70" y="276.55" width="29.19" height="5.3" fill="#D3D3D3" stroke="#000" stroke-width="1.1"/>
<line x1="591.70" y1="282.50" x2="683.30" y2="282.50" stroke="#2B2B2B" stroke-width="1.0" />
<line x1="595.70" y1="282.50" x2="595.70" y2="284.40" stroke="#2B2B2B" stroke-width="0.9" />
<text x="595.70" y="290.60" font-size="6.5" text-anchor="middle" font-weight="normal" fill="#4D4D4D" color="#4D4D4D" >0</text>
<line x1="616.55" y1="282.50" x2="616.55" y2="284.40" stroke="#2B2B2B" stroke-width="0.9" />
<text x="616.55" y="290.60" font-size="6.5" text-anchor="middle" font-weight="normal" fill="#4D4D4D" color="#4D4D4D" >5</text>
<line x1="637.40" y1="282.50" x2="637.40" y2="284.40" stroke="#2B2B2B" stroke-width="0.9" />
<text x="637.40" y="290.60" font-size="6.5" text-anchor="middle" font-weight="normal" fill="#4D4D4D" color="#4D4D4D" >10</text>
<line x1="658.25" y1="282.50" x2="658.25" y2="284.40" stroke="#2B2B2B" stroke-width="0.9" />
<text x="658.25" y="290.60" font-size="6.5" text-anchor="middle" font-weight="normal" fill="#4D4D4D" color="#4D4D4D" >15</text>
<line x1="679.10" y1="282.50" x2="679.10" y2="284.40" stroke="#2B2B2B" stroke-width="0.9" />
<text x="679.10" y="290.60" font-size="6.5" text-anchor="middle" font-weight="normal" fill="#4D4D4D" color="#4D4D4D" >20</text>
<line x1="496.50" y1="251.20" x2="496.50" y2="283.00" stroke="#2B2B2B" stroke-width="1.0" />
<line x1="494.50" y1="254.60" x2="496.50" y2="254.60" stroke="#2B2B2B" stroke-width="0.9" />
<text x="493.40" y="256.90" font-size="6.7" text-anchor="end" font-weight="normal" fill="#4D4D4D" color="#4D4D4D" >SA609</text>
<line x1="494.50" y1="260.75" x2="496.50" y2="260.75" stroke="#2B2B2B" stroke-width="0.9" />
<text x="493.40" y="263.05" font-size="6.7" text-anchor="end" font-weight="normal" fill="#4D4D4D" color="#4D4D4D" >SA535</text>
<line x1="494.50" y1="266.90" x2="496.50" y2="266.90" stroke="#2B2B2B" stroke-width="0.9" />
<text x="493.40" y="269.20" font-size="6.7" text-anchor="end" font-weight="normal" fill="#4D4D4D" color="#4D4D4D" >SA532</text>
<line x1="494.50" y1="273.05" x2="496.50" y2="273.05" stroke="#2B2B2B" stroke-width="0.9" />
<text x="493.40" y="275.35" font-size="6.7" text-anchor="end" font-weight="normal" fill="#4D4D4D" color="#4D4D4D" >SA1035</text>
<line x1="494.50" y1="279.20" x2="496.50" y2="279.20" stroke="#2B2B2B" stroke-width="0.9" />
<text x="493.40" y="281.50" font-size="6.7" text-anchor="end" font-weight="normal" fill="#4D4D4D" color="#4D4D4D" >p53 ko</text>
<text class="s" x="589.90" y="298.80" font-size="7.0" text-anchor="middle" font-weight="normal" fill="#000" color="#000" >number of passages</text>
</svg>
</body></html>
